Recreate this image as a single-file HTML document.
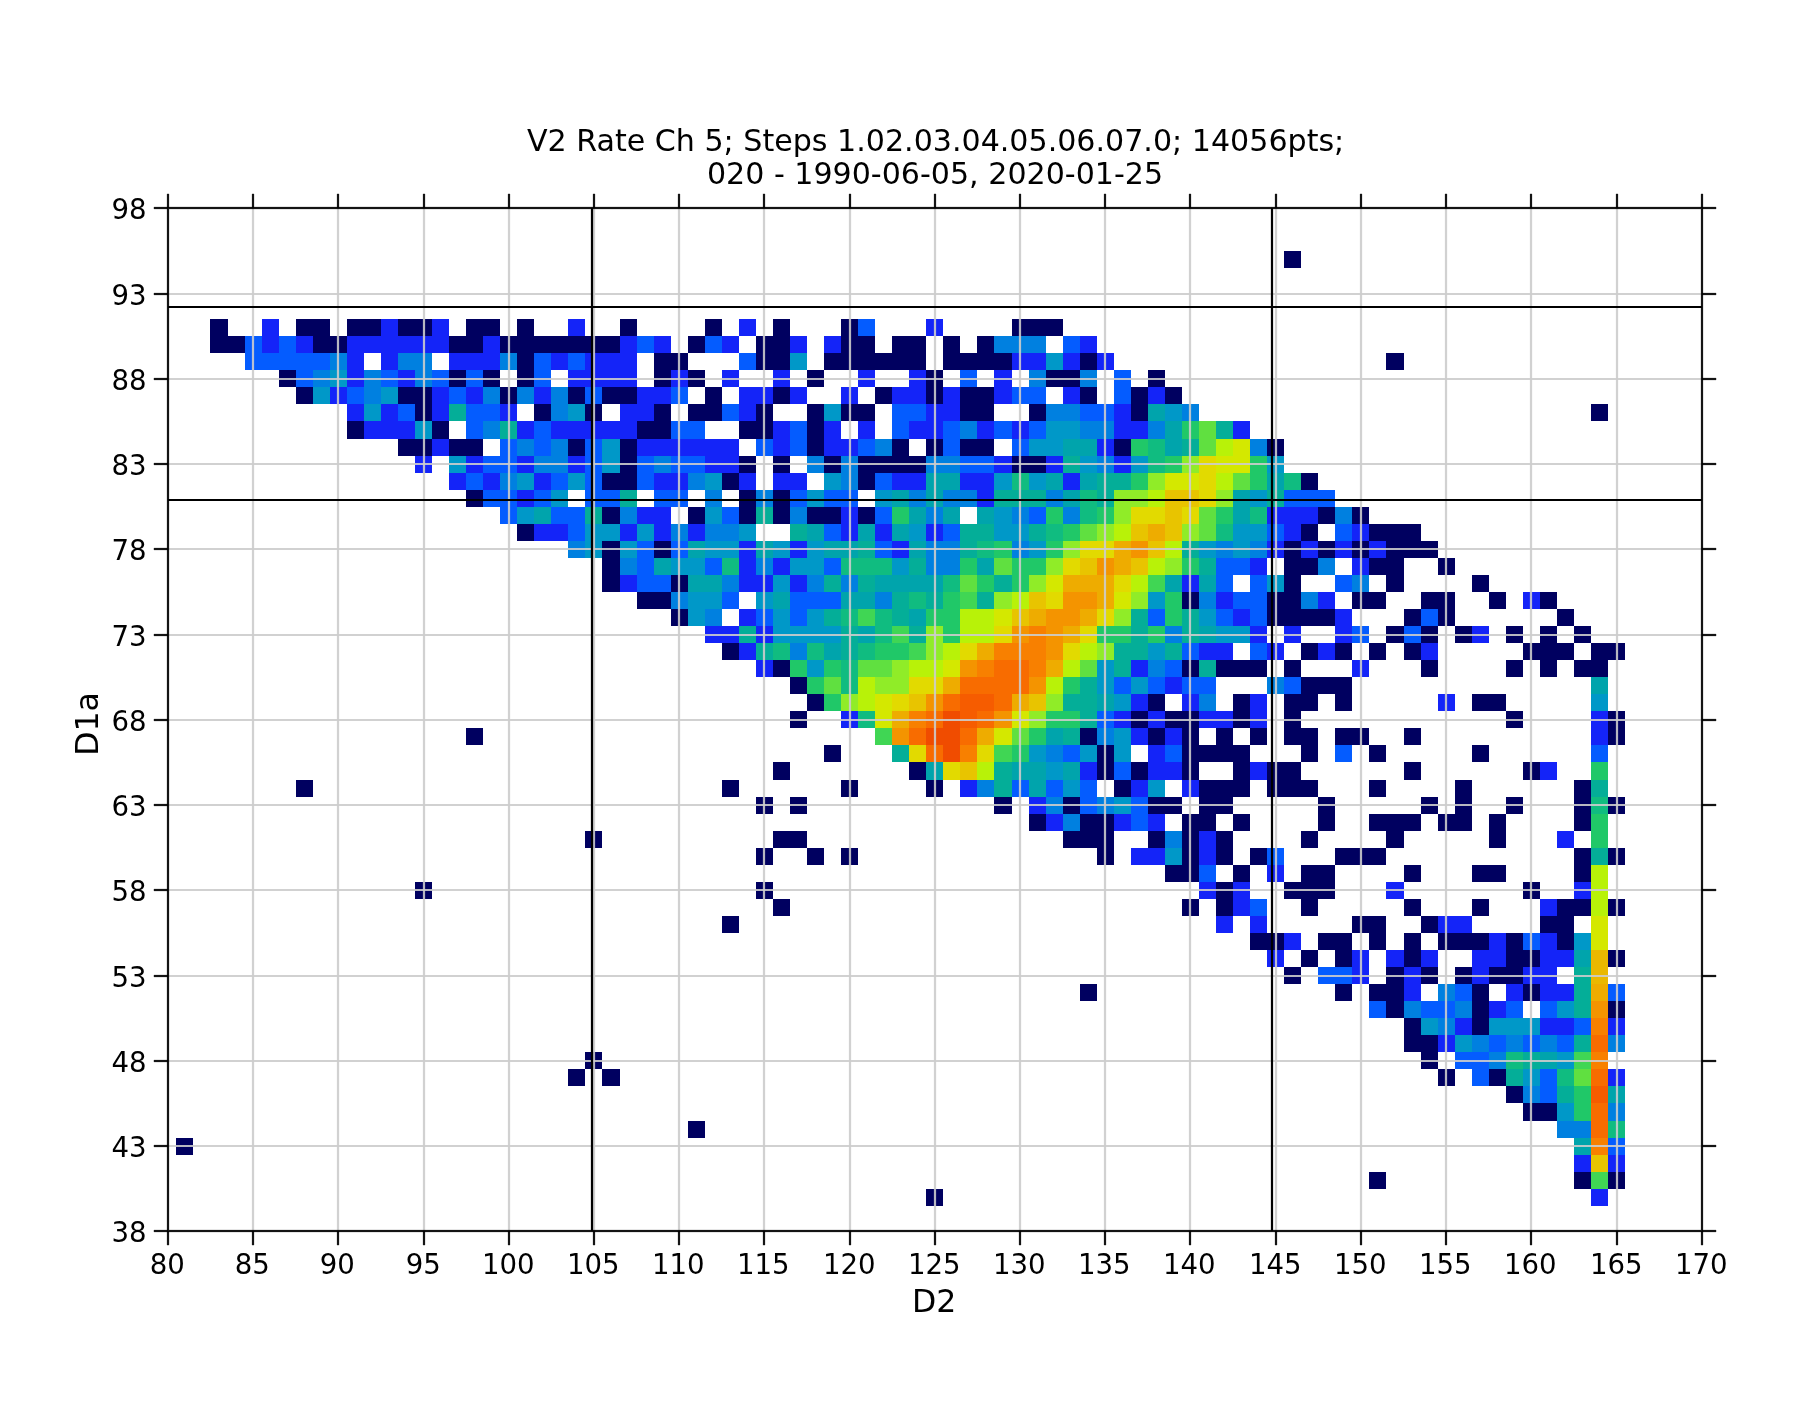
<!DOCTYPE html><html><head><meta charset="utf-8"><title>V2 Rate Ch 5</title>
<style>html,body{margin:0;padding:0;background:#fff;overflow:hidden}svg{display:block}text{font-family:"DejaVu Sans","Liberation Sans",sans-serif;fill:#000}</style></head><body>
<svg width="1820" height="1424" viewBox="0 0 1820 1424" style="will-change:transform">
<rect width="1820" height="1424" fill="#fff"/>
<defs><clipPath id="ax"><rect x="167.85" y="208.35" width="1533.96" height="1023.00"/></clipPath></defs>
<g clip-path="url(#ax)" shape-rendering="crispEdges">
<rect x="1284" y="251" width="17" height="17" fill="#000060"/>
<rect x="210" y="319" width="18" height="17" fill="#000060"/>
<rect x="262" y="319" width="17" height="17" fill="#1424f8"/>
<rect x="296" y="319" width="34" height="17" fill="#000060"/>
<rect x="347" y="319" width="34" height="17" fill="#000060"/>
<rect x="381" y="319" width="17" height="17" fill="#1424f8"/>
<rect x="398" y="319" width="34" height="17" fill="#000060"/>
<rect x="432" y="319" width="17" height="17" fill="#1424f8"/>
<rect x="466" y="319" width="34" height="17" fill="#000060"/>
<rect x="517" y="319" width="17" height="17" fill="#000060"/>
<rect x="568" y="319" width="17" height="17" fill="#1424f8"/>
<rect x="620" y="319" width="17" height="17" fill="#000060"/>
<rect x="705" y="319" width="17" height="17" fill="#000060"/>
<rect x="739" y="319" width="17" height="17" fill="#1424f8"/>
<rect x="773" y="319" width="17" height="17" fill="#000060"/>
<rect x="841" y="319" width="17" height="17" fill="#000060"/>
<rect x="858" y="319" width="17" height="17" fill="#045cff"/>
<rect x="926" y="319" width="17" height="17" fill="#1424f8"/>
<rect x="1012" y="319" width="51" height="17" fill="#000060"/>
<rect x="210" y="336" width="35" height="17" fill="#000060"/>
<rect x="245" y="336" width="17" height="17" fill="#045cff"/>
<rect x="262" y="336" width="17" height="17" fill="#1424f8"/>
<rect x="279" y="336" width="17" height="17" fill="#045cff"/>
<rect x="296" y="336" width="17" height="17" fill="#1424f8"/>
<rect x="313" y="336" width="34" height="17" fill="#000060"/>
<rect x="347" y="336" width="102" height="17" fill="#1424f8"/>
<rect x="449" y="336" width="34" height="17" fill="#000060"/>
<rect x="483" y="336" width="17" height="17" fill="#1424f8"/>
<rect x="500" y="336" width="120" height="17" fill="#000060"/>
<rect x="620" y="336" width="17" height="17" fill="#1424f8"/>
<rect x="637" y="336" width="17" height="17" fill="#045cff"/>
<rect x="654" y="336" width="17" height="17" fill="#1424f8"/>
<rect x="688" y="336" width="17" height="17" fill="#000060"/>
<rect x="705" y="336" width="17" height="17" fill="#045cff"/>
<rect x="722" y="336" width="17" height="17" fill="#1424f8"/>
<rect x="756" y="336" width="34" height="17" fill="#000060"/>
<rect x="790" y="336" width="17" height="17" fill="#1424f8"/>
<rect x="824" y="336" width="17" height="17" fill="#1424f8"/>
<rect x="841" y="336" width="34" height="17" fill="#000060"/>
<rect x="892" y="336" width="34" height="17" fill="#000060"/>
<rect x="943" y="336" width="17" height="17" fill="#000060"/>
<rect x="977" y="336" width="17" height="17" fill="#000060"/>
<rect x="994" y="336" width="52" height="17" fill="#0080e0"/>
<rect x="1063" y="336" width="17" height="17" fill="#045cff"/>
<rect x="1080" y="336" width="17" height="17" fill="#1424f8"/>
<rect x="245" y="353" width="85" height="17" fill="#045cff"/>
<rect x="330" y="353" width="17" height="17" fill="#0080e0"/>
<rect x="347" y="353" width="17" height="17" fill="#1424f8"/>
<rect x="381" y="353" width="17" height="17" fill="#1424f8"/>
<rect x="398" y="353" width="34" height="17" fill="#0080e0"/>
<rect x="449" y="353" width="51" height="17" fill="#1424f8"/>
<rect x="500" y="353" width="17" height="17" fill="#0080e0"/>
<rect x="517" y="353" width="17" height="17" fill="#000060"/>
<rect x="534" y="353" width="17" height="17" fill="#045cff"/>
<rect x="551" y="353" width="17" height="17" fill="#1424f8"/>
<rect x="568" y="353" width="17" height="17" fill="#045cff"/>
<rect x="585" y="353" width="52" height="17" fill="#1424f8"/>
<rect x="654" y="353" width="34" height="17" fill="#000060"/>
<rect x="739" y="353" width="17" height="17" fill="#045cff"/>
<rect x="756" y="353" width="34" height="17" fill="#000060"/>
<rect x="790" y="353" width="17" height="17" fill="#0098c8"/>
<rect x="824" y="353" width="102" height="17" fill="#000060"/>
<rect x="943" y="353" width="69" height="17" fill="#000060"/>
<rect x="1012" y="353" width="34" height="17" fill="#1424f8"/>
<rect x="1046" y="353" width="17" height="17" fill="#0098c8"/>
<rect x="1063" y="353" width="17" height="17" fill="#1424f8"/>
<rect x="1080" y="353" width="17" height="17" fill="#000060"/>
<rect x="1097" y="353" width="17" height="17" fill="#1424f8"/>
<rect x="1386" y="353" width="18" height="17" fill="#000060"/>
<rect x="279" y="370" width="17" height="17" fill="#000060"/>
<rect x="296" y="370" width="17" height="17" fill="#045cff"/>
<rect x="313" y="370" width="17" height="17" fill="#0080e0"/>
<rect x="330" y="370" width="17" height="17" fill="#0098c8"/>
<rect x="347" y="370" width="17" height="17" fill="#1424f8"/>
<rect x="364" y="370" width="17" height="17" fill="#0080e0"/>
<rect x="381" y="370" width="17" height="17" fill="#045cff"/>
<rect x="398" y="370" width="17" height="17" fill="#1424f8"/>
<rect x="415" y="370" width="17" height="17" fill="#0080e0"/>
<rect x="432" y="370" width="17" height="17" fill="#045cff"/>
<rect x="449" y="370" width="17" height="17" fill="#000060"/>
<rect x="466" y="370" width="17" height="17" fill="#045cff"/>
<rect x="483" y="370" width="17" height="17" fill="#000060"/>
<rect x="517" y="370" width="17" height="17" fill="#000060"/>
<rect x="534" y="370" width="17" height="17" fill="#045cff"/>
<rect x="568" y="370" width="69" height="17" fill="#1424f8"/>
<rect x="654" y="370" width="17" height="17" fill="#000060"/>
<rect x="671" y="370" width="17" height="17" fill="#1424f8"/>
<rect x="688" y="370" width="17" height="17" fill="#000060"/>
<rect x="722" y="370" width="17" height="17" fill="#1424f8"/>
<rect x="773" y="370" width="17" height="17" fill="#1424f8"/>
<rect x="807" y="370" width="17" height="17" fill="#000060"/>
<rect x="858" y="370" width="17" height="17" fill="#1424f8"/>
<rect x="909" y="370" width="17" height="17" fill="#1424f8"/>
<rect x="926" y="370" width="17" height="17" fill="#000060"/>
<rect x="960" y="370" width="17" height="17" fill="#045cff"/>
<rect x="994" y="370" width="18" height="17" fill="#1424f8"/>
<rect x="1029" y="370" width="17" height="17" fill="#0080e0"/>
<rect x="1046" y="370" width="34" height="17" fill="#000060"/>
<rect x="1080" y="370" width="17" height="17" fill="#0080e0"/>
<rect x="1114" y="370" width="17" height="17" fill="#045cff"/>
<rect x="1148" y="370" width="17" height="17" fill="#000060"/>
<rect x="296" y="387" width="17" height="17" fill="#000060"/>
<rect x="313" y="387" width="17" height="17" fill="#0098c8"/>
<rect x="330" y="387" width="17" height="17" fill="#1424f8"/>
<rect x="347" y="387" width="17" height="17" fill="#045cff"/>
<rect x="364" y="387" width="17" height="17" fill="#0080e0"/>
<rect x="381" y="387" width="17" height="17" fill="#0098c8"/>
<rect x="398" y="387" width="34" height="17" fill="#000060"/>
<rect x="432" y="387" width="17" height="17" fill="#1424f8"/>
<rect x="449" y="387" width="17" height="17" fill="#045cff"/>
<rect x="466" y="387" width="17" height="17" fill="#1424f8"/>
<rect x="483" y="387" width="17" height="17" fill="#0080e0"/>
<rect x="500" y="387" width="17" height="17" fill="#000060"/>
<rect x="517" y="387" width="17" height="17" fill="#0080e0"/>
<rect x="534" y="387" width="17" height="17" fill="#1424f8"/>
<rect x="551" y="387" width="17" height="17" fill="#0080e0"/>
<rect x="568" y="387" width="17" height="17" fill="#000060"/>
<rect x="585" y="387" width="17" height="17" fill="#045cff"/>
<rect x="602" y="387" width="35" height="17" fill="#000060"/>
<rect x="637" y="387" width="34" height="17" fill="#1424f8"/>
<rect x="671" y="387" width="17" height="17" fill="#045cff"/>
<rect x="705" y="387" width="17" height="17" fill="#000060"/>
<rect x="739" y="387" width="34" height="17" fill="#1424f8"/>
<rect x="773" y="387" width="17" height="17" fill="#000060"/>
<rect x="790" y="387" width="17" height="17" fill="#1424f8"/>
<rect x="841" y="387" width="17" height="17" fill="#1424f8"/>
<rect x="875" y="387" width="17" height="17" fill="#000060"/>
<rect x="892" y="387" width="34" height="17" fill="#1424f8"/>
<rect x="926" y="387" width="17" height="17" fill="#000060"/>
<rect x="943" y="387" width="17" height="17" fill="#1424f8"/>
<rect x="960" y="387" width="34" height="17" fill="#000060"/>
<rect x="994" y="387" width="18" height="17" fill="#1424f8"/>
<rect x="1012" y="387" width="34" height="17" fill="#045cff"/>
<rect x="1063" y="387" width="17" height="17" fill="#1424f8"/>
<rect x="1080" y="387" width="17" height="17" fill="#000060"/>
<rect x="1114" y="387" width="17" height="17" fill="#045cff"/>
<rect x="1131" y="387" width="17" height="17" fill="#000060"/>
<rect x="1148" y="387" width="17" height="17" fill="#1424f8"/>
<rect x="1165" y="387" width="17" height="17" fill="#000060"/>
<rect x="347" y="404" width="17" height="17" fill="#1424f8"/>
<rect x="364" y="404" width="17" height="17" fill="#0098c8"/>
<rect x="381" y="404" width="17" height="17" fill="#1424f8"/>
<rect x="398" y="404" width="17" height="17" fill="#045cff"/>
<rect x="415" y="404" width="17" height="17" fill="#000060"/>
<rect x="432" y="404" width="17" height="17" fill="#1424f8"/>
<rect x="449" y="404" width="17" height="17" fill="#04ae98"/>
<rect x="466" y="404" width="34" height="17" fill="#045cff"/>
<rect x="500" y="404" width="17" height="17" fill="#1424f8"/>
<rect x="534" y="404" width="17" height="17" fill="#000060"/>
<rect x="551" y="404" width="17" height="17" fill="#0080e0"/>
<rect x="568" y="404" width="17" height="17" fill="#0098c8"/>
<rect x="585" y="404" width="17" height="17" fill="#000060"/>
<rect x="620" y="404" width="34" height="17" fill="#1424f8"/>
<rect x="654" y="404" width="17" height="17" fill="#000060"/>
<rect x="688" y="404" width="34" height="17" fill="#000060"/>
<rect x="722" y="404" width="17" height="17" fill="#045cff"/>
<rect x="739" y="404" width="17" height="17" fill="#1424f8"/>
<rect x="756" y="404" width="17" height="17" fill="#000060"/>
<rect x="807" y="404" width="17" height="17" fill="#000060"/>
<rect x="824" y="404" width="17" height="17" fill="#0098c8"/>
<rect x="841" y="404" width="34" height="17" fill="#000060"/>
<rect x="892" y="404" width="34" height="17" fill="#045cff"/>
<rect x="926" y="404" width="34" height="17" fill="#1424f8"/>
<rect x="960" y="404" width="34" height="17" fill="#000060"/>
<rect x="1029" y="404" width="17" height="17" fill="#000060"/>
<rect x="1046" y="404" width="34" height="17" fill="#0080e0"/>
<rect x="1080" y="404" width="34" height="17" fill="#045cff"/>
<rect x="1114" y="404" width="17" height="17" fill="#1424f8"/>
<rect x="1131" y="404" width="17" height="17" fill="#000060"/>
<rect x="1148" y="404" width="17" height="17" fill="#00a4ac"/>
<rect x="1165" y="404" width="17" height="17" fill="#0098c8"/>
<rect x="1182" y="404" width="17" height="17" fill="#0080e0"/>
<rect x="1591" y="404" width="17" height="17" fill="#000060"/>
<rect x="347" y="421" width="17" height="18" fill="#000060"/>
<rect x="364" y="421" width="51" height="18" fill="#1424f8"/>
<rect x="415" y="421" width="17" height="18" fill="#0098c8"/>
<rect x="432" y="421" width="17" height="18" fill="#000060"/>
<rect x="466" y="421" width="17" height="18" fill="#045cff"/>
<rect x="483" y="421" width="17" height="18" fill="#0080e0"/>
<rect x="500" y="421" width="17" height="18" fill="#04ae98"/>
<rect x="517" y="421" width="17" height="18" fill="#1424f8"/>
<rect x="534" y="421" width="17" height="18" fill="#045cff"/>
<rect x="551" y="421" width="86" height="18" fill="#1424f8"/>
<rect x="637" y="421" width="34" height="18" fill="#000060"/>
<rect x="671" y="421" width="34" height="18" fill="#045cff"/>
<rect x="739" y="421" width="34" height="18" fill="#000060"/>
<rect x="773" y="421" width="17" height="18" fill="#1424f8"/>
<rect x="790" y="421" width="17" height="18" fill="#045cff"/>
<rect x="807" y="421" width="17" height="18" fill="#000060"/>
<rect x="824" y="421" width="17" height="18" fill="#1424f8"/>
<rect x="858" y="421" width="17" height="18" fill="#1424f8"/>
<rect x="892" y="421" width="17" height="18" fill="#045cff"/>
<rect x="909" y="421" width="34" height="18" fill="#1424f8"/>
<rect x="943" y="421" width="17" height="18" fill="#045cff"/>
<rect x="960" y="421" width="17" height="18" fill="#0080e0"/>
<rect x="977" y="421" width="17" height="18" fill="#1424f8"/>
<rect x="994" y="421" width="18" height="18" fill="#045cff"/>
<rect x="1012" y="421" width="17" height="18" fill="#1424f8"/>
<rect x="1029" y="421" width="17" height="18" fill="#045cff"/>
<rect x="1046" y="421" width="34" height="18" fill="#0098c8"/>
<rect x="1080" y="421" width="34" height="18" fill="#0080e0"/>
<rect x="1114" y="421" width="34" height="18" fill="#1424f8"/>
<rect x="1148" y="421" width="17" height="18" fill="#0080e0"/>
<rect x="1165" y="421" width="17" height="18" fill="#00a4ac"/>
<rect x="1182" y="421" width="17" height="18" fill="#20c868"/>
<rect x="1199" y="421" width="17" height="18" fill="#60e040"/>
<rect x="1216" y="421" width="17" height="18" fill="#04ae98"/>
<rect x="1233" y="421" width="17" height="18" fill="#1424f8"/>
<rect x="398" y="439" width="34" height="17" fill="#000060"/>
<rect x="432" y="439" width="17" height="17" fill="#1424f8"/>
<rect x="449" y="439" width="34" height="17" fill="#000060"/>
<rect x="500" y="439" width="17" height="17" fill="#045cff"/>
<rect x="517" y="439" width="17" height="17" fill="#0080e0"/>
<rect x="534" y="439" width="17" height="17" fill="#045cff"/>
<rect x="551" y="439" width="17" height="17" fill="#0080e0"/>
<rect x="568" y="439" width="17" height="17" fill="#000060"/>
<rect x="585" y="439" width="17" height="17" fill="#045cff"/>
<rect x="602" y="439" width="18" height="17" fill="#0098c8"/>
<rect x="620" y="439" width="17" height="17" fill="#000060"/>
<rect x="637" y="439" width="102" height="17" fill="#1424f8"/>
<rect x="756" y="439" width="17" height="17" fill="#045cff"/>
<rect x="773" y="439" width="17" height="17" fill="#1424f8"/>
<rect x="790" y="439" width="17" height="17" fill="#045cff"/>
<rect x="807" y="439" width="17" height="17" fill="#000060"/>
<rect x="824" y="439" width="34" height="17" fill="#1424f8"/>
<rect x="858" y="439" width="17" height="17" fill="#045cff"/>
<rect x="875" y="439" width="17" height="17" fill="#0080e0"/>
<rect x="892" y="439" width="17" height="17" fill="#000060"/>
<rect x="926" y="439" width="17" height="17" fill="#000060"/>
<rect x="943" y="439" width="17" height="17" fill="#045cff"/>
<rect x="960" y="439" width="34" height="17" fill="#000060"/>
<rect x="1012" y="439" width="17" height="17" fill="#045cff"/>
<rect x="1029" y="439" width="34" height="17" fill="#0098c8"/>
<rect x="1063" y="439" width="34" height="17" fill="#00a4ac"/>
<rect x="1097" y="439" width="17" height="17" fill="#1424f8"/>
<rect x="1114" y="439" width="17" height="17" fill="#000060"/>
<rect x="1131" y="439" width="17" height="17" fill="#20c868"/>
<rect x="1148" y="439" width="17" height="17" fill="#10bc80"/>
<rect x="1165" y="439" width="17" height="17" fill="#00a4ac"/>
<rect x="1182" y="439" width="17" height="17" fill="#04ae98"/>
<rect x="1199" y="439" width="17" height="17" fill="#60e040"/>
<rect x="1216" y="439" width="17" height="17" fill="#b8f208"/>
<rect x="1233" y="439" width="17" height="17" fill="#d4e800"/>
<rect x="1250" y="439" width="17" height="17" fill="#0080e0"/>
<rect x="1267" y="439" width="17" height="17" fill="#000060"/>
<rect x="415" y="456" width="17" height="17" fill="#1424f8"/>
<rect x="449" y="456" width="17" height="17" fill="#0098c8"/>
<rect x="466" y="456" width="17" height="17" fill="#1424f8"/>
<rect x="483" y="456" width="34" height="17" fill="#045cff"/>
<rect x="517" y="456" width="17" height="17" fill="#1424f8"/>
<rect x="534" y="456" width="34" height="17" fill="#0080e0"/>
<rect x="568" y="456" width="17" height="17" fill="#1424f8"/>
<rect x="585" y="456" width="17" height="17" fill="#045cff"/>
<rect x="602" y="456" width="18" height="17" fill="#0098c8"/>
<rect x="620" y="456" width="17" height="17" fill="#000060"/>
<rect x="637" y="456" width="17" height="17" fill="#045cff"/>
<rect x="654" y="456" width="17" height="17" fill="#0080e0"/>
<rect x="671" y="456" width="34" height="17" fill="#045cff"/>
<rect x="705" y="456" width="34" height="17" fill="#1424f8"/>
<rect x="739" y="456" width="17" height="17" fill="#000060"/>
<rect x="773" y="456" width="17" height="17" fill="#000060"/>
<rect x="807" y="456" width="17" height="17" fill="#0080e0"/>
<rect x="824" y="456" width="17" height="17" fill="#000060"/>
<rect x="841" y="456" width="17" height="17" fill="#0080e0"/>
<rect x="858" y="456" width="68" height="17" fill="#000060"/>
<rect x="926" y="456" width="34" height="17" fill="#0080e0"/>
<rect x="960" y="456" width="34" height="17" fill="#045cff"/>
<rect x="994" y="456" width="18" height="17" fill="#1424f8"/>
<rect x="1012" y="456" width="34" height="17" fill="#000060"/>
<rect x="1046" y="456" width="17" height="17" fill="#1424f8"/>
<rect x="1063" y="456" width="17" height="17" fill="#04ae98"/>
<rect x="1080" y="456" width="17" height="17" fill="#0098c8"/>
<rect x="1097" y="456" width="17" height="17" fill="#0080e0"/>
<rect x="1114" y="456" width="17" height="17" fill="#1424f8"/>
<rect x="1131" y="456" width="17" height="17" fill="#0098c8"/>
<rect x="1148" y="456" width="17" height="17" fill="#10bc80"/>
<rect x="1165" y="456" width="17" height="17" fill="#20c868"/>
<rect x="1182" y="456" width="17" height="17" fill="#90ec28"/>
<rect x="1199" y="456" width="17" height="17" fill="#e2da00"/>
<rect x="1216" y="456" width="34" height="17" fill="#d4e800"/>
<rect x="1250" y="456" width="17" height="17" fill="#20c868"/>
<rect x="1267" y="456" width="17" height="17" fill="#0098c8"/>
<rect x="449" y="473" width="17" height="17" fill="#1424f8"/>
<rect x="466" y="473" width="17" height="17" fill="#045cff"/>
<rect x="483" y="473" width="17" height="17" fill="#1424f8"/>
<rect x="500" y="473" width="17" height="17" fill="#0080e0"/>
<rect x="517" y="473" width="17" height="17" fill="#0098c8"/>
<rect x="534" y="473" width="17" height="17" fill="#1424f8"/>
<rect x="551" y="473" width="17" height="17" fill="#045cff"/>
<rect x="568" y="473" width="17" height="17" fill="#0098c8"/>
<rect x="585" y="473" width="17" height="17" fill="#045cff"/>
<rect x="602" y="473" width="35" height="17" fill="#000060"/>
<rect x="637" y="473" width="17" height="17" fill="#045cff"/>
<rect x="654" y="473" width="34" height="17" fill="#1424f8"/>
<rect x="688" y="473" width="17" height="17" fill="#0080e0"/>
<rect x="705" y="473" width="17" height="17" fill="#0098c8"/>
<rect x="722" y="473" width="17" height="17" fill="#000060"/>
<rect x="739" y="473" width="17" height="17" fill="#1424f8"/>
<rect x="773" y="473" width="34" height="17" fill="#1424f8"/>
<rect x="824" y="473" width="17" height="17" fill="#0098c8"/>
<rect x="841" y="473" width="17" height="17" fill="#0080e0"/>
<rect x="858" y="473" width="17" height="17" fill="#000060"/>
<rect x="875" y="473" width="17" height="17" fill="#045cff"/>
<rect x="892" y="473" width="34" height="17" fill="#1424f8"/>
<rect x="926" y="473" width="34" height="17" fill="#00a4ac"/>
<rect x="960" y="473" width="34" height="17" fill="#1424f8"/>
<rect x="994" y="473" width="18" height="17" fill="#0098c8"/>
<rect x="1012" y="473" width="17" height="17" fill="#10bc80"/>
<rect x="1029" y="473" width="17" height="17" fill="#0098c8"/>
<rect x="1046" y="473" width="17" height="17" fill="#00a4ac"/>
<rect x="1063" y="473" width="17" height="17" fill="#1424f8"/>
<rect x="1080" y="473" width="17" height="17" fill="#00a4ac"/>
<rect x="1097" y="473" width="34" height="17" fill="#04ae98"/>
<rect x="1131" y="473" width="17" height="17" fill="#20c868"/>
<rect x="1148" y="473" width="17" height="17" fill="#90ec28"/>
<rect x="1165" y="473" width="34" height="17" fill="#d4e800"/>
<rect x="1199" y="473" width="17" height="17" fill="#e2da00"/>
<rect x="1216" y="473" width="17" height="17" fill="#b8f208"/>
<rect x="1233" y="473" width="17" height="17" fill="#60e040"/>
<rect x="1250" y="473" width="17" height="17" fill="#20c868"/>
<rect x="1267" y="473" width="17" height="17" fill="#00a4ac"/>
<rect x="1284" y="473" width="17" height="17" fill="#10bc80"/>
<rect x="1301" y="473" width="17" height="17" fill="#000060"/>
<rect x="466" y="490" width="17" height="17" fill="#000060"/>
<rect x="483" y="490" width="34" height="17" fill="#045cff"/>
<rect x="517" y="490" width="17" height="17" fill="#1424f8"/>
<rect x="534" y="490" width="17" height="17" fill="#045cff"/>
<rect x="551" y="490" width="17" height="17" fill="#0098c8"/>
<rect x="585" y="490" width="35" height="17" fill="#045cff"/>
<rect x="620" y="490" width="17" height="17" fill="#04ae98"/>
<rect x="654" y="490" width="34" height="17" fill="#045cff"/>
<rect x="705" y="490" width="17" height="17" fill="#0080e0"/>
<rect x="739" y="490" width="17" height="17" fill="#000060"/>
<rect x="756" y="490" width="17" height="17" fill="#0080e0"/>
<rect x="773" y="490" width="17" height="17" fill="#000060"/>
<rect x="790" y="490" width="17" height="17" fill="#045cff"/>
<rect x="807" y="490" width="17" height="17" fill="#0098c8"/>
<rect x="824" y="490" width="34" height="17" fill="#045cff"/>
<rect x="875" y="490" width="17" height="17" fill="#0098c8"/>
<rect x="892" y="490" width="17" height="17" fill="#00a4ac"/>
<rect x="909" y="490" width="17" height="17" fill="#0080e0"/>
<rect x="926" y="490" width="17" height="17" fill="#00a4ac"/>
<rect x="943" y="490" width="34" height="17" fill="#0080e0"/>
<rect x="977" y="490" width="17" height="17" fill="#1424f8"/>
<rect x="994" y="490" width="52" height="17" fill="#04ae98"/>
<rect x="1046" y="490" width="17" height="17" fill="#0080e0"/>
<rect x="1063" y="490" width="17" height="17" fill="#00a4ac"/>
<rect x="1080" y="490" width="17" height="17" fill="#10bc80"/>
<rect x="1097" y="490" width="17" height="17" fill="#04ae98"/>
<rect x="1114" y="490" width="34" height="17" fill="#90ec28"/>
<rect x="1148" y="490" width="17" height="17" fill="#b8f208"/>
<rect x="1165" y="490" width="34" height="17" fill="#e8c400"/>
<rect x="1199" y="490" width="17" height="17" fill="#e2da00"/>
<rect x="1216" y="490" width="17" height="17" fill="#90ec28"/>
<rect x="1233" y="490" width="17" height="17" fill="#00a4ac"/>
<rect x="1250" y="490" width="17" height="17" fill="#0098c8"/>
<rect x="1267" y="490" width="17" height="17" fill="#04ae98"/>
<rect x="1284" y="490" width="51" height="17" fill="#045cff"/>
<rect x="500" y="507" width="17" height="17" fill="#045cff"/>
<rect x="517" y="507" width="17" height="17" fill="#0098c8"/>
<rect x="534" y="507" width="17" height="17" fill="#00a4ac"/>
<rect x="551" y="507" width="34" height="17" fill="#045cff"/>
<rect x="585" y="507" width="17" height="17" fill="#04ae98"/>
<rect x="602" y="507" width="18" height="17" fill="#000060"/>
<rect x="620" y="507" width="17" height="17" fill="#0080e0"/>
<rect x="637" y="507" width="34" height="17" fill="#1424f8"/>
<rect x="688" y="507" width="17" height="17" fill="#000060"/>
<rect x="705" y="507" width="17" height="17" fill="#0098c8"/>
<rect x="722" y="507" width="17" height="17" fill="#045cff"/>
<rect x="739" y="507" width="17" height="17" fill="#000060"/>
<rect x="756" y="507" width="17" height="17" fill="#04ae98"/>
<rect x="773" y="507" width="17" height="17" fill="#000060"/>
<rect x="790" y="507" width="17" height="17" fill="#0080e0"/>
<rect x="807" y="507" width="34" height="17" fill="#000060"/>
<rect x="841" y="507" width="17" height="17" fill="#1424f8"/>
<rect x="858" y="507" width="17" height="17" fill="#000060"/>
<rect x="875" y="507" width="17" height="17" fill="#045cff"/>
<rect x="892" y="507" width="17" height="17" fill="#20c868"/>
<rect x="909" y="507" width="17" height="17" fill="#00a4ac"/>
<rect x="926" y="507" width="17" height="17" fill="#0080e0"/>
<rect x="943" y="507" width="17" height="17" fill="#00a4ac"/>
<rect x="977" y="507" width="17" height="17" fill="#00a4ac"/>
<rect x="994" y="507" width="18" height="17" fill="#0098c8"/>
<rect x="1012" y="507" width="17" height="17" fill="#0080e0"/>
<rect x="1029" y="507" width="17" height="17" fill="#045cff"/>
<rect x="1046" y="507" width="17" height="17" fill="#20c868"/>
<rect x="1063" y="507" width="17" height="17" fill="#0080e0"/>
<rect x="1080" y="507" width="17" height="17" fill="#10bc80"/>
<rect x="1097" y="507" width="17" height="17" fill="#20c868"/>
<rect x="1114" y="507" width="17" height="17" fill="#90ec28"/>
<rect x="1131" y="507" width="34" height="17" fill="#e2da00"/>
<rect x="1165" y="507" width="17" height="17" fill="#e8c400"/>
<rect x="1182" y="507" width="17" height="17" fill="#e2da00"/>
<rect x="1199" y="507" width="17" height="17" fill="#60e040"/>
<rect x="1216" y="507" width="17" height="17" fill="#20c868"/>
<rect x="1233" y="507" width="17" height="17" fill="#00a4ac"/>
<rect x="1250" y="507" width="17" height="17" fill="#10bc80"/>
<rect x="1267" y="507" width="51" height="17" fill="#1424f8"/>
<rect x="1318" y="507" width="17" height="17" fill="#000060"/>
<rect x="1335" y="507" width="17" height="17" fill="#0080e0"/>
<rect x="1352" y="507" width="17" height="17" fill="#000060"/>
<rect x="517" y="524" width="17" height="17" fill="#000060"/>
<rect x="534" y="524" width="34" height="17" fill="#1424f8"/>
<rect x="568" y="524" width="17" height="17" fill="#045cff"/>
<rect x="585" y="524" width="35" height="17" fill="#0098c8"/>
<rect x="620" y="524" width="17" height="17" fill="#1424f8"/>
<rect x="637" y="524" width="17" height="17" fill="#0098c8"/>
<rect x="654" y="524" width="17" height="17" fill="#1424f8"/>
<rect x="671" y="524" width="17" height="17" fill="#0080e0"/>
<rect x="688" y="524" width="17" height="17" fill="#1424f8"/>
<rect x="705" y="524" width="34" height="17" fill="#0080e0"/>
<rect x="739" y="524" width="17" height="17" fill="#0098c8"/>
<rect x="790" y="524" width="17" height="17" fill="#04ae98"/>
<rect x="807" y="524" width="17" height="17" fill="#00a4ac"/>
<rect x="824" y="524" width="17" height="17" fill="#045cff"/>
<rect x="841" y="524" width="17" height="17" fill="#1424f8"/>
<rect x="858" y="524" width="17" height="17" fill="#00a4ac"/>
<rect x="875" y="524" width="17" height="17" fill="#1424f8"/>
<rect x="892" y="524" width="17" height="17" fill="#00a4ac"/>
<rect x="909" y="524" width="17" height="17" fill="#0098c8"/>
<rect x="926" y="524" width="17" height="17" fill="#1424f8"/>
<rect x="943" y="524" width="17" height="17" fill="#045cff"/>
<rect x="960" y="524" width="34" height="17" fill="#04ae98"/>
<rect x="994" y="524" width="35" height="17" fill="#0098c8"/>
<rect x="1029" y="524" width="17" height="17" fill="#04ae98"/>
<rect x="1046" y="524" width="17" height="17" fill="#10bc80"/>
<rect x="1063" y="524" width="17" height="17" fill="#20c868"/>
<rect x="1080" y="524" width="17" height="17" fill="#60e040"/>
<rect x="1097" y="524" width="17" height="17" fill="#90ec28"/>
<rect x="1114" y="524" width="17" height="17" fill="#b8f208"/>
<rect x="1131" y="524" width="17" height="17" fill="#e8c400"/>
<rect x="1148" y="524" width="17" height="17" fill="#eeac00"/>
<rect x="1165" y="524" width="17" height="17" fill="#e8c400"/>
<rect x="1182" y="524" width="17" height="17" fill="#90ec28"/>
<rect x="1199" y="524" width="17" height="17" fill="#60e040"/>
<rect x="1216" y="524" width="17" height="17" fill="#10bc80"/>
<rect x="1233" y="524" width="34" height="17" fill="#0098c8"/>
<rect x="1267" y="524" width="17" height="17" fill="#045cff"/>
<rect x="1284" y="524" width="17" height="17" fill="#1424f8"/>
<rect x="1301" y="524" width="17" height="17" fill="#000060"/>
<rect x="1335" y="524" width="17" height="17" fill="#045cff"/>
<rect x="1352" y="524" width="17" height="17" fill="#1424f8"/>
<rect x="1369" y="524" width="52" height="17" fill="#000060"/>
<rect x="568" y="541" width="17" height="17" fill="#0080e0"/>
<rect x="585" y="541" width="17" height="17" fill="#0098c8"/>
<rect x="602" y="541" width="18" height="17" fill="#000060"/>
<rect x="620" y="541" width="17" height="17" fill="#0098c8"/>
<rect x="637" y="541" width="17" height="17" fill="#045cff"/>
<rect x="654" y="541" width="17" height="17" fill="#000060"/>
<rect x="671" y="541" width="17" height="17" fill="#045cff"/>
<rect x="688" y="541" width="17" height="17" fill="#00a4ac"/>
<rect x="705" y="541" width="34" height="17" fill="#0098c8"/>
<rect x="739" y="541" width="17" height="17" fill="#1424f8"/>
<rect x="756" y="541" width="17" height="17" fill="#00a4ac"/>
<rect x="773" y="541" width="17" height="17" fill="#0098c8"/>
<rect x="790" y="541" width="17" height="17" fill="#1424f8"/>
<rect x="807" y="541" width="17" height="17" fill="#0098c8"/>
<rect x="824" y="541" width="34" height="17" fill="#00a4ac"/>
<rect x="858" y="541" width="17" height="17" fill="#04ae98"/>
<rect x="875" y="541" width="17" height="17" fill="#045cff"/>
<rect x="892" y="541" width="17" height="17" fill="#1424f8"/>
<rect x="909" y="541" width="17" height="17" fill="#00a4ac"/>
<rect x="926" y="541" width="34" height="17" fill="#0080e0"/>
<rect x="960" y="541" width="17" height="17" fill="#04ae98"/>
<rect x="977" y="541" width="17" height="17" fill="#10bc80"/>
<rect x="994" y="541" width="18" height="17" fill="#20c868"/>
<rect x="1012" y="541" width="17" height="17" fill="#0080e0"/>
<rect x="1029" y="541" width="17" height="17" fill="#0098c8"/>
<rect x="1046" y="541" width="17" height="17" fill="#20c868"/>
<rect x="1063" y="541" width="17" height="17" fill="#90ec28"/>
<rect x="1080" y="541" width="34" height="17" fill="#e2da00"/>
<rect x="1114" y="541" width="17" height="17" fill="#eeac00"/>
<rect x="1131" y="541" width="17" height="17" fill="#f49400"/>
<rect x="1148" y="541" width="17" height="17" fill="#e8c400"/>
<rect x="1165" y="541" width="17" height="17" fill="#b8f208"/>
<rect x="1182" y="541" width="17" height="17" fill="#04ae98"/>
<rect x="1199" y="541" width="17" height="17" fill="#0098c8"/>
<rect x="1216" y="541" width="17" height="17" fill="#0080e0"/>
<rect x="1233" y="541" width="17" height="17" fill="#0098c8"/>
<rect x="1250" y="541" width="17" height="17" fill="#0080e0"/>
<rect x="1267" y="541" width="17" height="17" fill="#1424f8"/>
<rect x="1284" y="541" width="17" height="17" fill="#000060"/>
<rect x="1301" y="541" width="17" height="17" fill="#1424f8"/>
<rect x="1318" y="541" width="17" height="17" fill="#000060"/>
<rect x="1335" y="541" width="17" height="17" fill="#1424f8"/>
<rect x="1352" y="541" width="17" height="17" fill="#000060"/>
<rect x="1369" y="541" width="17" height="17" fill="#1424f8"/>
<rect x="1386" y="541" width="52" height="17" fill="#000060"/>
<rect x="602" y="558" width="18" height="17" fill="#000060"/>
<rect x="620" y="558" width="17" height="17" fill="#0080e0"/>
<rect x="637" y="558" width="17" height="17" fill="#045cff"/>
<rect x="654" y="558" width="17" height="17" fill="#00a4ac"/>
<rect x="671" y="558" width="34" height="17" fill="#0098c8"/>
<rect x="705" y="558" width="17" height="17" fill="#045cff"/>
<rect x="722" y="558" width="17" height="17" fill="#10bc80"/>
<rect x="739" y="558" width="17" height="17" fill="#1424f8"/>
<rect x="756" y="558" width="17" height="17" fill="#0080e0"/>
<rect x="773" y="558" width="17" height="17" fill="#1424f8"/>
<rect x="790" y="558" width="34" height="17" fill="#0098c8"/>
<rect x="824" y="558" width="17" height="17" fill="#045cff"/>
<rect x="841" y="558" width="51" height="17" fill="#10bc80"/>
<rect x="892" y="558" width="17" height="17" fill="#0098c8"/>
<rect x="909" y="558" width="17" height="17" fill="#04ae98"/>
<rect x="926" y="558" width="34" height="17" fill="#0080e0"/>
<rect x="960" y="558" width="17" height="17" fill="#20c868"/>
<rect x="977" y="558" width="17" height="17" fill="#00a4ac"/>
<rect x="994" y="558" width="18" height="17" fill="#60e040"/>
<rect x="1012" y="558" width="34" height="17" fill="#20c868"/>
<rect x="1046" y="558" width="17" height="17" fill="#90ec28"/>
<rect x="1063" y="558" width="17" height="17" fill="#e2da00"/>
<rect x="1080" y="558" width="17" height="17" fill="#e8c400"/>
<rect x="1097" y="558" width="17" height="17" fill="#f49400"/>
<rect x="1114" y="558" width="17" height="17" fill="#eeac00"/>
<rect x="1131" y="558" width="17" height="17" fill="#e8c400"/>
<rect x="1148" y="558" width="17" height="17" fill="#b8f208"/>
<rect x="1165" y="558" width="17" height="17" fill="#90ec28"/>
<rect x="1182" y="558" width="17" height="17" fill="#20c868"/>
<rect x="1199" y="558" width="17" height="17" fill="#04ae98"/>
<rect x="1216" y="558" width="34" height="17" fill="#045cff"/>
<rect x="1250" y="558" width="17" height="17" fill="#1424f8"/>
<rect x="1284" y="558" width="34" height="17" fill="#000060"/>
<rect x="1318" y="558" width="17" height="17" fill="#0080e0"/>
<rect x="1352" y="558" width="17" height="17" fill="#1424f8"/>
<rect x="1369" y="558" width="35" height="17" fill="#000060"/>
<rect x="1438" y="558" width="17" height="17" fill="#000060"/>
<rect x="602" y="575" width="18" height="17" fill="#000060"/>
<rect x="620" y="575" width="17" height="17" fill="#1424f8"/>
<rect x="637" y="575" width="34" height="17" fill="#045cff"/>
<rect x="671" y="575" width="17" height="17" fill="#000060"/>
<rect x="688" y="575" width="34" height="17" fill="#00a4ac"/>
<rect x="722" y="575" width="17" height="17" fill="#0080e0"/>
<rect x="739" y="575" width="34" height="17" fill="#1424f8"/>
<rect x="773" y="575" width="17" height="17" fill="#0098c8"/>
<rect x="790" y="575" width="17" height="17" fill="#1424f8"/>
<rect x="807" y="575" width="17" height="17" fill="#0080e0"/>
<rect x="824" y="575" width="17" height="17" fill="#04ae98"/>
<rect x="841" y="575" width="17" height="17" fill="#0080e0"/>
<rect x="858" y="575" width="17" height="17" fill="#04ae98"/>
<rect x="875" y="575" width="68" height="17" fill="#00a4ac"/>
<rect x="943" y="575" width="17" height="17" fill="#10bc80"/>
<rect x="960" y="575" width="17" height="17" fill="#60e040"/>
<rect x="977" y="575" width="17" height="17" fill="#20c868"/>
<rect x="994" y="575" width="18" height="17" fill="#04ae98"/>
<rect x="1012" y="575" width="17" height="17" fill="#20c868"/>
<rect x="1029" y="575" width="17" height="17" fill="#90ec28"/>
<rect x="1046" y="575" width="17" height="17" fill="#d4e800"/>
<rect x="1063" y="575" width="51" height="17" fill="#eeac00"/>
<rect x="1114" y="575" width="17" height="17" fill="#e2da00"/>
<rect x="1131" y="575" width="17" height="17" fill="#b8f208"/>
<rect x="1148" y="575" width="17" height="17" fill="#40d654"/>
<rect x="1165" y="575" width="17" height="17" fill="#00a4ac"/>
<rect x="1182" y="575" width="17" height="17" fill="#1424f8"/>
<rect x="1199" y="575" width="17" height="17" fill="#00a4ac"/>
<rect x="1216" y="575" width="17" height="17" fill="#045cff"/>
<rect x="1250" y="575" width="17" height="17" fill="#045cff"/>
<rect x="1267" y="575" width="17" height="17" fill="#0098c8"/>
<rect x="1284" y="575" width="17" height="17" fill="#000060"/>
<rect x="1335" y="575" width="17" height="17" fill="#045cff"/>
<rect x="1352" y="575" width="17" height="17" fill="#0080e0"/>
<rect x="1386" y="575" width="18" height="17" fill="#000060"/>
<rect x="1472" y="575" width="17" height="17" fill="#000060"/>
<rect x="637" y="592" width="34" height="17" fill="#000060"/>
<rect x="671" y="592" width="17" height="17" fill="#0080e0"/>
<rect x="688" y="592" width="34" height="17" fill="#0098c8"/>
<rect x="722" y="592" width="17" height="17" fill="#045cff"/>
<rect x="756" y="592" width="17" height="17" fill="#0098c8"/>
<rect x="773" y="592" width="17" height="17" fill="#00a4ac"/>
<rect x="790" y="592" width="51" height="17" fill="#045cff"/>
<rect x="841" y="592" width="34" height="17" fill="#00a4ac"/>
<rect x="875" y="592" width="17" height="17" fill="#0080e0"/>
<rect x="892" y="592" width="17" height="17" fill="#04ae98"/>
<rect x="909" y="592" width="17" height="17" fill="#10bc80"/>
<rect x="926" y="592" width="17" height="17" fill="#04ae98"/>
<rect x="943" y="592" width="17" height="17" fill="#20c868"/>
<rect x="960" y="592" width="17" height="17" fill="#40d654"/>
<rect x="977" y="592" width="17" height="17" fill="#04ae98"/>
<rect x="994" y="592" width="18" height="17" fill="#90ec28"/>
<rect x="1012" y="592" width="17" height="17" fill="#b8f208"/>
<rect x="1029" y="592" width="17" height="17" fill="#e8c400"/>
<rect x="1046" y="592" width="17" height="17" fill="#e2da00"/>
<rect x="1063" y="592" width="34" height="17" fill="#f49400"/>
<rect x="1097" y="592" width="17" height="17" fill="#eeac00"/>
<rect x="1114" y="592" width="17" height="17" fill="#d4e800"/>
<rect x="1131" y="592" width="17" height="17" fill="#90ec28"/>
<rect x="1148" y="592" width="17" height="17" fill="#0098c8"/>
<rect x="1165" y="592" width="17" height="17" fill="#20c868"/>
<rect x="1182" y="592" width="17" height="17" fill="#000060"/>
<rect x="1199" y="592" width="17" height="17" fill="#0080e0"/>
<rect x="1216" y="592" width="17" height="17" fill="#1424f8"/>
<rect x="1233" y="592" width="34" height="17" fill="#045cff"/>
<rect x="1267" y="592" width="34" height="17" fill="#000060"/>
<rect x="1301" y="592" width="17" height="17" fill="#0080e0"/>
<rect x="1318" y="592" width="17" height="17" fill="#1424f8"/>
<rect x="1352" y="592" width="34" height="17" fill="#000060"/>
<rect x="1421" y="592" width="34" height="17" fill="#000060"/>
<rect x="1489" y="592" width="17" height="17" fill="#000060"/>
<rect x="1523" y="592" width="17" height="17" fill="#1424f8"/>
<rect x="1540" y="592" width="17" height="17" fill="#000060"/>
<rect x="671" y="609" width="17" height="17" fill="#000060"/>
<rect x="688" y="609" width="17" height="17" fill="#0098c8"/>
<rect x="705" y="609" width="17" height="17" fill="#0080e0"/>
<rect x="739" y="609" width="17" height="17" fill="#1424f8"/>
<rect x="756" y="609" width="17" height="17" fill="#045cff"/>
<rect x="773" y="609" width="17" height="17" fill="#0098c8"/>
<rect x="790" y="609" width="17" height="17" fill="#045cff"/>
<rect x="807" y="609" width="17" height="17" fill="#0098c8"/>
<rect x="824" y="609" width="17" height="17" fill="#04ae98"/>
<rect x="841" y="609" width="17" height="17" fill="#10bc80"/>
<rect x="858" y="609" width="17" height="17" fill="#40d654"/>
<rect x="875" y="609" width="17" height="17" fill="#10bc80"/>
<rect x="892" y="609" width="17" height="17" fill="#04ae98"/>
<rect x="909" y="609" width="17" height="17" fill="#00a4ac"/>
<rect x="926" y="609" width="34" height="17" fill="#20c868"/>
<rect x="960" y="609" width="34" height="17" fill="#b8f208"/>
<rect x="994" y="609" width="18" height="17" fill="#d4e800"/>
<rect x="1012" y="609" width="17" height="17" fill="#e8c400"/>
<rect x="1029" y="609" width="17" height="17" fill="#eeac00"/>
<rect x="1046" y="609" width="34" height="17" fill="#f49400"/>
<rect x="1080" y="609" width="17" height="17" fill="#eeac00"/>
<rect x="1097" y="609" width="17" height="17" fill="#e2da00"/>
<rect x="1114" y="609" width="17" height="17" fill="#90ec28"/>
<rect x="1131" y="609" width="17" height="17" fill="#04ae98"/>
<rect x="1148" y="609" width="17" height="17" fill="#045cff"/>
<rect x="1165" y="609" width="17" height="17" fill="#20c868"/>
<rect x="1182" y="609" width="17" height="17" fill="#04ae98"/>
<rect x="1199" y="609" width="17" height="17" fill="#0098c8"/>
<rect x="1216" y="609" width="17" height="17" fill="#045cff"/>
<rect x="1233" y="609" width="17" height="17" fill="#1424f8"/>
<rect x="1250" y="609" width="17" height="17" fill="#045cff"/>
<rect x="1267" y="609" width="68" height="17" fill="#000060"/>
<rect x="1335" y="609" width="17" height="17" fill="#1424f8"/>
<rect x="1404" y="609" width="17" height="17" fill="#000060"/>
<rect x="1421" y="609" width="17" height="17" fill="#045cff"/>
<rect x="1438" y="609" width="17" height="17" fill="#000060"/>
<rect x="1557" y="609" width="17" height="17" fill="#000060"/>
<rect x="705" y="626" width="34" height="17" fill="#1424f8"/>
<rect x="739" y="626" width="17" height="17" fill="#04ae98"/>
<rect x="756" y="626" width="17" height="17" fill="#1424f8"/>
<rect x="773" y="626" width="68" height="17" fill="#0098c8"/>
<rect x="841" y="626" width="17" height="17" fill="#04ae98"/>
<rect x="858" y="626" width="17" height="17" fill="#00a4ac"/>
<rect x="875" y="626" width="17" height="17" fill="#10bc80"/>
<rect x="892" y="626" width="17" height="17" fill="#40d654"/>
<rect x="909" y="626" width="17" height="17" fill="#04ae98"/>
<rect x="926" y="626" width="17" height="17" fill="#90ec28"/>
<rect x="943" y="626" width="17" height="17" fill="#20c868"/>
<rect x="960" y="626" width="34" height="17" fill="#b8f208"/>
<rect x="994" y="626" width="18" height="17" fill="#e2da00"/>
<rect x="1012" y="626" width="17" height="17" fill="#f49400"/>
<rect x="1029" y="626" width="17" height="17" fill="#f88000"/>
<rect x="1046" y="626" width="17" height="17" fill="#f49400"/>
<rect x="1063" y="626" width="17" height="17" fill="#eeac00"/>
<rect x="1080" y="626" width="17" height="17" fill="#e2da00"/>
<rect x="1097" y="626" width="34" height="17" fill="#20c868"/>
<rect x="1131" y="626" width="17" height="17" fill="#04ae98"/>
<rect x="1148" y="626" width="17" height="17" fill="#20c868"/>
<rect x="1165" y="626" width="17" height="17" fill="#0080e0"/>
<rect x="1182" y="626" width="17" height="17" fill="#04ae98"/>
<rect x="1199" y="626" width="17" height="17" fill="#00a4ac"/>
<rect x="1216" y="626" width="34" height="17" fill="#0098c8"/>
<rect x="1250" y="626" width="17" height="17" fill="#1424f8"/>
<rect x="1284" y="626" width="17" height="17" fill="#1424f8"/>
<rect x="1335" y="626" width="17" height="17" fill="#1424f8"/>
<rect x="1352" y="626" width="17" height="17" fill="#045cff"/>
<rect x="1386" y="626" width="18" height="17" fill="#000060"/>
<rect x="1404" y="626" width="17" height="17" fill="#045cff"/>
<rect x="1421" y="626" width="17" height="17" fill="#000060"/>
<rect x="1455" y="626" width="17" height="17" fill="#000060"/>
<rect x="1472" y="626" width="17" height="17" fill="#1424f8"/>
<rect x="1506" y="626" width="17" height="17" fill="#000060"/>
<rect x="1540" y="626" width="17" height="17" fill="#000060"/>
<rect x="1574" y="626" width="17" height="17" fill="#000060"/>
<rect x="722" y="643" width="17" height="17" fill="#000060"/>
<rect x="739" y="643" width="17" height="17" fill="#1424f8"/>
<rect x="756" y="643" width="17" height="17" fill="#04ae98"/>
<rect x="773" y="643" width="17" height="17" fill="#10bc80"/>
<rect x="790" y="643" width="17" height="17" fill="#0080e0"/>
<rect x="807" y="643" width="17" height="17" fill="#10bc80"/>
<rect x="824" y="643" width="17" height="17" fill="#00a4ac"/>
<rect x="841" y="643" width="17" height="17" fill="#04ae98"/>
<rect x="858" y="643" width="17" height="17" fill="#10bc80"/>
<rect x="875" y="643" width="34" height="17" fill="#20c868"/>
<rect x="909" y="643" width="17" height="17" fill="#40d654"/>
<rect x="926" y="643" width="17" height="17" fill="#90ec28"/>
<rect x="943" y="643" width="17" height="17" fill="#b8f208"/>
<rect x="960" y="643" width="17" height="17" fill="#e2da00"/>
<rect x="977" y="643" width="17" height="17" fill="#eeac00"/>
<rect x="994" y="643" width="52" height="17" fill="#f88000"/>
<rect x="1046" y="643" width="17" height="17" fill="#f49400"/>
<rect x="1063" y="643" width="17" height="17" fill="#e2da00"/>
<rect x="1080" y="643" width="17" height="17" fill="#b8f208"/>
<rect x="1097" y="643" width="17" height="17" fill="#90ec28"/>
<rect x="1114" y="643" width="34" height="17" fill="#04ae98"/>
<rect x="1148" y="643" width="17" height="17" fill="#0098c8"/>
<rect x="1165" y="643" width="17" height="17" fill="#04ae98"/>
<rect x="1182" y="643" width="17" height="17" fill="#045cff"/>
<rect x="1199" y="643" width="34" height="17" fill="#1424f8"/>
<rect x="1250" y="643" width="17" height="17" fill="#045cff"/>
<rect x="1267" y="643" width="17" height="17" fill="#1424f8"/>
<rect x="1301" y="643" width="17" height="17" fill="#000060"/>
<rect x="1318" y="643" width="17" height="17" fill="#1424f8"/>
<rect x="1335" y="643" width="17" height="17" fill="#000060"/>
<rect x="1369" y="643" width="17" height="17" fill="#000060"/>
<rect x="1404" y="643" width="17" height="17" fill="#000060"/>
<rect x="1421" y="643" width="17" height="17" fill="#1424f8"/>
<rect x="1523" y="643" width="51" height="17" fill="#000060"/>
<rect x="1591" y="643" width="34" height="17" fill="#000060"/>
<rect x="756" y="660" width="17" height="17" fill="#1424f8"/>
<rect x="773" y="660" width="17" height="17" fill="#000060"/>
<rect x="790" y="660" width="17" height="17" fill="#20c868"/>
<rect x="807" y="660" width="17" height="17" fill="#0098c8"/>
<rect x="824" y="660" width="17" height="17" fill="#20c868"/>
<rect x="841" y="660" width="17" height="17" fill="#10bc80"/>
<rect x="858" y="660" width="34" height="17" fill="#60e040"/>
<rect x="892" y="660" width="17" height="17" fill="#90ec28"/>
<rect x="909" y="660" width="34" height="17" fill="#b8f208"/>
<rect x="943" y="660" width="17" height="17" fill="#d4e800"/>
<rect x="960" y="660" width="17" height="17" fill="#f49400"/>
<rect x="977" y="660" width="17" height="17" fill="#f88000"/>
<rect x="994" y="660" width="35" height="17" fill="#f86c00"/>
<rect x="1029" y="660" width="17" height="17" fill="#f88000"/>
<rect x="1046" y="660" width="17" height="17" fill="#eeac00"/>
<rect x="1063" y="660" width="17" height="17" fill="#b8f208"/>
<rect x="1080" y="660" width="17" height="17" fill="#60e040"/>
<rect x="1097" y="660" width="17" height="17" fill="#0098c8"/>
<rect x="1114" y="660" width="17" height="17" fill="#04ae98"/>
<rect x="1131" y="660" width="17" height="17" fill="#1424f8"/>
<rect x="1148" y="660" width="17" height="17" fill="#0080e0"/>
<rect x="1165" y="660" width="17" height="17" fill="#045cff"/>
<rect x="1182" y="660" width="17" height="17" fill="#000060"/>
<rect x="1199" y="660" width="17" height="17" fill="#04ae98"/>
<rect x="1216" y="660" width="51" height="17" fill="#000060"/>
<rect x="1284" y="660" width="17" height="17" fill="#000060"/>
<rect x="1352" y="660" width="17" height="17" fill="#1424f8"/>
<rect x="1421" y="660" width="17" height="17" fill="#000060"/>
<rect x="1506" y="660" width="17" height="17" fill="#000060"/>
<rect x="1540" y="660" width="17" height="17" fill="#000060"/>
<rect x="1574" y="660" width="34" height="17" fill="#000060"/>
<rect x="790" y="677" width="17" height="17" fill="#000060"/>
<rect x="807" y="677" width="17" height="17" fill="#20c868"/>
<rect x="824" y="677" width="17" height="17" fill="#60e040"/>
<rect x="841" y="677" width="17" height="17" fill="#10bc80"/>
<rect x="858" y="677" width="17" height="17" fill="#b8f208"/>
<rect x="875" y="677" width="34" height="17" fill="#90ec28"/>
<rect x="909" y="677" width="34" height="17" fill="#e2da00"/>
<rect x="943" y="677" width="17" height="17" fill="#eeac00"/>
<rect x="960" y="677" width="69" height="17" fill="#f86c00"/>
<rect x="1029" y="677" width="17" height="17" fill="#f49400"/>
<rect x="1046" y="677" width="17" height="17" fill="#b8f208"/>
<rect x="1063" y="677" width="17" height="17" fill="#20c868"/>
<rect x="1080" y="677" width="17" height="17" fill="#04ae98"/>
<rect x="1097" y="677" width="17" height="17" fill="#0098c8"/>
<rect x="1114" y="677" width="17" height="17" fill="#045cff"/>
<rect x="1131" y="677" width="17" height="17" fill="#0098c8"/>
<rect x="1148" y="677" width="17" height="17" fill="#045cff"/>
<rect x="1165" y="677" width="17" height="17" fill="#1424f8"/>
<rect x="1182" y="677" width="34" height="17" fill="#045cff"/>
<rect x="1267" y="677" width="17" height="17" fill="#0080e0"/>
<rect x="1284" y="677" width="17" height="17" fill="#045cff"/>
<rect x="1301" y="677" width="51" height="17" fill="#000060"/>
<rect x="1591" y="677" width="17" height="17" fill="#00a4ac"/>
<rect x="807" y="694" width="17" height="17" fill="#000060"/>
<rect x="824" y="694" width="17" height="17" fill="#20c868"/>
<rect x="841" y="694" width="17" height="17" fill="#90ec28"/>
<rect x="858" y="694" width="17" height="17" fill="#b8f208"/>
<rect x="875" y="694" width="17" height="17" fill="#d4e800"/>
<rect x="892" y="694" width="17" height="17" fill="#e2da00"/>
<rect x="909" y="694" width="17" height="17" fill="#e8c400"/>
<rect x="926" y="694" width="17" height="17" fill="#f49400"/>
<rect x="943" y="694" width="17" height="17" fill="#f86c00"/>
<rect x="960" y="694" width="34" height="17" fill="#f65c00"/>
<rect x="994" y="694" width="18" height="17" fill="#f86c00"/>
<rect x="1012" y="694" width="17" height="17" fill="#eeac00"/>
<rect x="1029" y="694" width="17" height="17" fill="#e8c400"/>
<rect x="1046" y="694" width="17" height="17" fill="#90ec28"/>
<rect x="1063" y="694" width="34" height="17" fill="#04ae98"/>
<rect x="1097" y="694" width="17" height="17" fill="#00a4ac"/>
<rect x="1114" y="694" width="17" height="17" fill="#0098c8"/>
<rect x="1131" y="694" width="17" height="17" fill="#1424f8"/>
<rect x="1148" y="694" width="17" height="17" fill="#000060"/>
<rect x="1182" y="694" width="17" height="17" fill="#1424f8"/>
<rect x="1199" y="694" width="17" height="17" fill="#0080e0"/>
<rect x="1233" y="694" width="17" height="17" fill="#000060"/>
<rect x="1250" y="694" width="17" height="17" fill="#1424f8"/>
<rect x="1284" y="694" width="34" height="17" fill="#000060"/>
<rect x="1335" y="694" width="17" height="17" fill="#000060"/>
<rect x="1438" y="694" width="17" height="17" fill="#1424f8"/>
<rect x="1472" y="694" width="34" height="17" fill="#000060"/>
<rect x="1591" y="694" width="17" height="17" fill="#0098c8"/>
<rect x="790" y="711" width="17" height="17" fill="#000060"/>
<rect x="841" y="711" width="17" height="17" fill="#1424f8"/>
<rect x="858" y="711" width="17" height="17" fill="#10bc80"/>
<rect x="875" y="711" width="17" height="17" fill="#d4e800"/>
<rect x="892" y="711" width="17" height="17" fill="#eeac00"/>
<rect x="909" y="711" width="17" height="17" fill="#f88000"/>
<rect x="926" y="711" width="17" height="17" fill="#f86c00"/>
<rect x="943" y="711" width="17" height="17" fill="#f04c00"/>
<rect x="960" y="711" width="17" height="17" fill="#f65c00"/>
<rect x="977" y="711" width="17" height="17" fill="#f86c00"/>
<rect x="994" y="711" width="18" height="17" fill="#f49400"/>
<rect x="1012" y="711" width="17" height="17" fill="#d4e800"/>
<rect x="1029" y="711" width="17" height="17" fill="#90ec28"/>
<rect x="1046" y="711" width="34" height="17" fill="#20c868"/>
<rect x="1080" y="711" width="17" height="17" fill="#04ae98"/>
<rect x="1097" y="711" width="17" height="17" fill="#045cff"/>
<rect x="1114" y="711" width="17" height="17" fill="#1424f8"/>
<rect x="1131" y="711" width="17" height="17" fill="#000060"/>
<rect x="1148" y="711" width="17" height="17" fill="#1424f8"/>
<rect x="1165" y="711" width="34" height="17" fill="#000060"/>
<rect x="1199" y="711" width="34" height="17" fill="#1424f8"/>
<rect x="1233" y="711" width="17" height="17" fill="#000060"/>
<rect x="1250" y="711" width="17" height="17" fill="#1424f8"/>
<rect x="1284" y="711" width="17" height="17" fill="#000060"/>
<rect x="1506" y="711" width="17" height="17" fill="#000060"/>
<rect x="1591" y="711" width="17" height="17" fill="#1424f8"/>
<rect x="1608" y="711" width="17" height="17" fill="#000060"/>
<rect x="466" y="728" width="17" height="17" fill="#000060"/>
<rect x="875" y="728" width="17" height="17" fill="#40d654"/>
<rect x="892" y="728" width="17" height="17" fill="#f49400"/>
<rect x="909" y="728" width="17" height="17" fill="#f86c00"/>
<rect x="926" y="728" width="34" height="17" fill="#f04c00"/>
<rect x="960" y="728" width="17" height="17" fill="#f86c00"/>
<rect x="977" y="728" width="17" height="17" fill="#eeac00"/>
<rect x="994" y="728" width="18" height="17" fill="#d4e800"/>
<rect x="1012" y="728" width="17" height="17" fill="#60e040"/>
<rect x="1029" y="728" width="17" height="17" fill="#20c868"/>
<rect x="1046" y="728" width="17" height="17" fill="#00a4ac"/>
<rect x="1063" y="728" width="17" height="17" fill="#04ae98"/>
<rect x="1080" y="728" width="17" height="17" fill="#000060"/>
<rect x="1097" y="728" width="17" height="17" fill="#0080e0"/>
<rect x="1114" y="728" width="17" height="17" fill="#0098c8"/>
<rect x="1131" y="728" width="17" height="17" fill="#1424f8"/>
<rect x="1148" y="728" width="17" height="17" fill="#000060"/>
<rect x="1165" y="728" width="17" height="17" fill="#1424f8"/>
<rect x="1182" y="728" width="17" height="17" fill="#000060"/>
<rect x="1216" y="728" width="17" height="17" fill="#000060"/>
<rect x="1250" y="728" width="17" height="17" fill="#000060"/>
<rect x="1284" y="728" width="34" height="17" fill="#000060"/>
<rect x="1335" y="728" width="34" height="17" fill="#000060"/>
<rect x="1404" y="728" width="17" height="17" fill="#000060"/>
<rect x="1591" y="728" width="17" height="17" fill="#1424f8"/>
<rect x="1608" y="728" width="17" height="17" fill="#000060"/>
<rect x="824" y="745" width="17" height="17" fill="#000060"/>
<rect x="892" y="745" width="17" height="17" fill="#04ae98"/>
<rect x="909" y="745" width="17" height="17" fill="#e2da00"/>
<rect x="926" y="745" width="17" height="17" fill="#f86c00"/>
<rect x="943" y="745" width="17" height="17" fill="#f04c00"/>
<rect x="960" y="745" width="17" height="17" fill="#f88000"/>
<rect x="977" y="745" width="17" height="17" fill="#e2da00"/>
<rect x="994" y="745" width="18" height="17" fill="#40d654"/>
<rect x="1012" y="745" width="17" height="17" fill="#20c868"/>
<rect x="1029" y="745" width="17" height="17" fill="#0098c8"/>
<rect x="1046" y="745" width="17" height="17" fill="#0080e0"/>
<rect x="1063" y="745" width="17" height="17" fill="#045cff"/>
<rect x="1080" y="745" width="17" height="17" fill="#0098c8"/>
<rect x="1097" y="745" width="17" height="17" fill="#000060"/>
<rect x="1114" y="745" width="17" height="17" fill="#0098c8"/>
<rect x="1148" y="745" width="17" height="17" fill="#1424f8"/>
<rect x="1165" y="745" width="17" height="17" fill="#045cff"/>
<rect x="1182" y="745" width="68" height="17" fill="#000060"/>
<rect x="1301" y="745" width="17" height="17" fill="#000060"/>
<rect x="1335" y="745" width="17" height="17" fill="#045cff"/>
<rect x="1369" y="745" width="17" height="17" fill="#000060"/>
<rect x="1472" y="745" width="17" height="17" fill="#000060"/>
<rect x="1591" y="745" width="17" height="17" fill="#045cff"/>
<rect x="773" y="762" width="17" height="18" fill="#000060"/>
<rect x="909" y="762" width="17" height="18" fill="#000060"/>
<rect x="926" y="762" width="17" height="18" fill="#00a4ac"/>
<rect x="943" y="762" width="17" height="18" fill="#e2da00"/>
<rect x="960" y="762" width="17" height="18" fill="#e8c400"/>
<rect x="977" y="762" width="17" height="18" fill="#b8f208"/>
<rect x="994" y="762" width="18" height="18" fill="#04ae98"/>
<rect x="1012" y="762" width="34" height="18" fill="#00a4ac"/>
<rect x="1046" y="762" width="17" height="18" fill="#0098c8"/>
<rect x="1063" y="762" width="17" height="18" fill="#00a4ac"/>
<rect x="1080" y="762" width="17" height="18" fill="#1424f8"/>
<rect x="1097" y="762" width="17" height="18" fill="#000060"/>
<rect x="1114" y="762" width="17" height="18" fill="#045cff"/>
<rect x="1131" y="762" width="17" height="18" fill="#000060"/>
<rect x="1148" y="762" width="34" height="18" fill="#1424f8"/>
<rect x="1182" y="762" width="17" height="18" fill="#000060"/>
<rect x="1233" y="762" width="17" height="18" fill="#000060"/>
<rect x="1250" y="762" width="17" height="18" fill="#1424f8"/>
<rect x="1267" y="762" width="34" height="18" fill="#000060"/>
<rect x="1404" y="762" width="17" height="18" fill="#000060"/>
<rect x="1523" y="762" width="17" height="18" fill="#000060"/>
<rect x="1540" y="762" width="17" height="18" fill="#1424f8"/>
<rect x="1591" y="762" width="17" height="18" fill="#20c868"/>
<rect x="296" y="780" width="17" height="17" fill="#000060"/>
<rect x="722" y="780" width="17" height="17" fill="#000060"/>
<rect x="841" y="780" width="17" height="17" fill="#000060"/>
<rect x="926" y="780" width="17" height="17" fill="#000060"/>
<rect x="960" y="780" width="17" height="17" fill="#1424f8"/>
<rect x="977" y="780" width="17" height="17" fill="#0080e0"/>
<rect x="994" y="780" width="18" height="17" fill="#04ae98"/>
<rect x="1012" y="780" width="17" height="17" fill="#045cff"/>
<rect x="1029" y="780" width="17" height="17" fill="#00a4ac"/>
<rect x="1046" y="780" width="17" height="17" fill="#045cff"/>
<rect x="1063" y="780" width="17" height="17" fill="#0098c8"/>
<rect x="1080" y="780" width="17" height="17" fill="#045cff"/>
<rect x="1114" y="780" width="17" height="17" fill="#000060"/>
<rect x="1131" y="780" width="17" height="17" fill="#1424f8"/>
<rect x="1148" y="780" width="17" height="17" fill="#0098c8"/>
<rect x="1182" y="780" width="17" height="17" fill="#1424f8"/>
<rect x="1199" y="780" width="51" height="17" fill="#000060"/>
<rect x="1267" y="780" width="51" height="17" fill="#000060"/>
<rect x="1369" y="780" width="17" height="17" fill="#000060"/>
<rect x="1455" y="780" width="17" height="17" fill="#000060"/>
<rect x="1574" y="780" width="17" height="17" fill="#000060"/>
<rect x="1591" y="780" width="17" height="17" fill="#04ae98"/>
<rect x="756" y="797" width="17" height="17" fill="#000060"/>
<rect x="790" y="797" width="17" height="17" fill="#000060"/>
<rect x="994" y="797" width="18" height="17" fill="#000060"/>
<rect x="1029" y="797" width="17" height="17" fill="#1424f8"/>
<rect x="1046" y="797" width="17" height="17" fill="#0080e0"/>
<rect x="1063" y="797" width="17" height="17" fill="#000060"/>
<rect x="1080" y="797" width="17" height="17" fill="#045cff"/>
<rect x="1097" y="797" width="17" height="17" fill="#0080e0"/>
<rect x="1114" y="797" width="17" height="17" fill="#0098c8"/>
<rect x="1131" y="797" width="17" height="17" fill="#045cff"/>
<rect x="1148" y="797" width="34" height="17" fill="#000060"/>
<rect x="1199" y="797" width="34" height="17" fill="#000060"/>
<rect x="1318" y="797" width="17" height="17" fill="#000060"/>
<rect x="1421" y="797" width="17" height="17" fill="#000060"/>
<rect x="1455" y="797" width="17" height="17" fill="#000060"/>
<rect x="1506" y="797" width="17" height="17" fill="#000060"/>
<rect x="1574" y="797" width="17" height="17" fill="#000060"/>
<rect x="1591" y="797" width="17" height="17" fill="#10bc80"/>
<rect x="1608" y="797" width="17" height="17" fill="#000060"/>
<rect x="1029" y="814" width="17" height="17" fill="#000060"/>
<rect x="1046" y="814" width="17" height="17" fill="#1424f8"/>
<rect x="1063" y="814" width="17" height="17" fill="#0080e0"/>
<rect x="1080" y="814" width="34" height="17" fill="#000060"/>
<rect x="1114" y="814" width="17" height="17" fill="#1424f8"/>
<rect x="1131" y="814" width="17" height="17" fill="#045cff"/>
<rect x="1148" y="814" width="17" height="17" fill="#1424f8"/>
<rect x="1182" y="814" width="34" height="17" fill="#000060"/>
<rect x="1233" y="814" width="17" height="17" fill="#000060"/>
<rect x="1318" y="814" width="17" height="17" fill="#000060"/>
<rect x="1369" y="814" width="52" height="17" fill="#000060"/>
<rect x="1438" y="814" width="34" height="17" fill="#000060"/>
<rect x="1489" y="814" width="17" height="17" fill="#000060"/>
<rect x="1574" y="814" width="17" height="17" fill="#000060"/>
<rect x="1591" y="814" width="17" height="17" fill="#20c868"/>
<rect x="585" y="831" width="17" height="17" fill="#000060"/>
<rect x="773" y="831" width="34" height="17" fill="#000060"/>
<rect x="1063" y="831" width="51" height="17" fill="#000060"/>
<rect x="1148" y="831" width="17" height="17" fill="#000060"/>
<rect x="1165" y="831" width="17" height="17" fill="#0080e0"/>
<rect x="1182" y="831" width="17" height="17" fill="#000060"/>
<rect x="1199" y="831" width="17" height="17" fill="#1424f8"/>
<rect x="1216" y="831" width="17" height="17" fill="#000060"/>
<rect x="1301" y="831" width="17" height="17" fill="#000060"/>
<rect x="1386" y="831" width="18" height="17" fill="#000060"/>
<rect x="1489" y="831" width="17" height="17" fill="#000060"/>
<rect x="1557" y="831" width="17" height="17" fill="#1424f8"/>
<rect x="1591" y="831" width="17" height="17" fill="#20c868"/>
<rect x="756" y="848" width="17" height="17" fill="#000060"/>
<rect x="807" y="848" width="17" height="17" fill="#000060"/>
<rect x="841" y="848" width="17" height="17" fill="#000060"/>
<rect x="1097" y="848" width="17" height="17" fill="#000060"/>
<rect x="1131" y="848" width="34" height="17" fill="#1424f8"/>
<rect x="1165" y="848" width="17" height="17" fill="#0098c8"/>
<rect x="1182" y="848" width="17" height="17" fill="#000060"/>
<rect x="1199" y="848" width="17" height="17" fill="#1424f8"/>
<rect x="1216" y="848" width="17" height="17" fill="#000060"/>
<rect x="1250" y="848" width="17" height="17" fill="#000060"/>
<rect x="1267" y="848" width="17" height="17" fill="#045cff"/>
<rect x="1335" y="848" width="51" height="17" fill="#000060"/>
<rect x="1574" y="848" width="17" height="17" fill="#000060"/>
<rect x="1591" y="848" width="17" height="17" fill="#04ae98"/>
<rect x="1608" y="848" width="17" height="17" fill="#000060"/>
<rect x="1165" y="865" width="34" height="17" fill="#000060"/>
<rect x="1199" y="865" width="17" height="17" fill="#045cff"/>
<rect x="1233" y="865" width="17" height="17" fill="#000060"/>
<rect x="1267" y="865" width="17" height="17" fill="#1424f8"/>
<rect x="1301" y="865" width="34" height="17" fill="#000060"/>
<rect x="1404" y="865" width="17" height="17" fill="#000060"/>
<rect x="1472" y="865" width="34" height="17" fill="#000060"/>
<rect x="1574" y="865" width="17" height="17" fill="#000060"/>
<rect x="1591" y="865" width="17" height="17" fill="#b8f208"/>
<rect x="415" y="882" width="17" height="17" fill="#000060"/>
<rect x="756" y="882" width="17" height="17" fill="#000060"/>
<rect x="1199" y="882" width="17" height="17" fill="#1424f8"/>
<rect x="1216" y="882" width="17" height="17" fill="#000060"/>
<rect x="1233" y="882" width="17" height="17" fill="#1424f8"/>
<rect x="1284" y="882" width="51" height="17" fill="#000060"/>
<rect x="1386" y="882" width="18" height="17" fill="#1424f8"/>
<rect x="1523" y="882" width="17" height="17" fill="#000060"/>
<rect x="1574" y="882" width="17" height="17" fill="#1424f8"/>
<rect x="1591" y="882" width="17" height="17" fill="#b8f208"/>
<rect x="773" y="899" width="17" height="17" fill="#000060"/>
<rect x="1182" y="899" width="17" height="17" fill="#000060"/>
<rect x="1216" y="899" width="17" height="17" fill="#000060"/>
<rect x="1233" y="899" width="17" height="17" fill="#1424f8"/>
<rect x="1250" y="899" width="17" height="17" fill="#045cff"/>
<rect x="1301" y="899" width="17" height="17" fill="#000060"/>
<rect x="1404" y="899" width="17" height="17" fill="#000060"/>
<rect x="1472" y="899" width="17" height="17" fill="#000060"/>
<rect x="1540" y="899" width="17" height="17" fill="#1424f8"/>
<rect x="1557" y="899" width="34" height="17" fill="#000060"/>
<rect x="1591" y="899" width="17" height="17" fill="#b8f208"/>
<rect x="1608" y="899" width="17" height="17" fill="#000060"/>
<rect x="722" y="916" width="17" height="17" fill="#000060"/>
<rect x="1216" y="916" width="17" height="17" fill="#1424f8"/>
<rect x="1250" y="916" width="17" height="17" fill="#1424f8"/>
<rect x="1352" y="916" width="34" height="17" fill="#000060"/>
<rect x="1421" y="916" width="17" height="17" fill="#000060"/>
<rect x="1438" y="916" width="34" height="17" fill="#1424f8"/>
<rect x="1540" y="916" width="34" height="17" fill="#000060"/>
<rect x="1591" y="916" width="17" height="17" fill="#d4e800"/>
<rect x="1250" y="933" width="34" height="17" fill="#000060"/>
<rect x="1284" y="933" width="17" height="17" fill="#1424f8"/>
<rect x="1318" y="933" width="34" height="17" fill="#000060"/>
<rect x="1369" y="933" width="17" height="17" fill="#000060"/>
<rect x="1404" y="933" width="17" height="17" fill="#000060"/>
<rect x="1438" y="933" width="51" height="17" fill="#000060"/>
<rect x="1489" y="933" width="17" height="17" fill="#1424f8"/>
<rect x="1506" y="933" width="17" height="17" fill="#000060"/>
<rect x="1523" y="933" width="17" height="17" fill="#045cff"/>
<rect x="1540" y="933" width="17" height="17" fill="#1424f8"/>
<rect x="1557" y="933" width="17" height="17" fill="#000060"/>
<rect x="1574" y="933" width="17" height="17" fill="#0098c8"/>
<rect x="1591" y="933" width="17" height="17" fill="#d4e800"/>
<rect x="1267" y="950" width="17" height="17" fill="#1424f8"/>
<rect x="1301" y="950" width="17" height="17" fill="#000060"/>
<rect x="1335" y="950" width="17" height="17" fill="#000060"/>
<rect x="1352" y="950" width="17" height="17" fill="#1424f8"/>
<rect x="1386" y="950" width="18" height="17" fill="#1424f8"/>
<rect x="1404" y="950" width="17" height="17" fill="#000060"/>
<rect x="1421" y="950" width="17" height="17" fill="#1424f8"/>
<rect x="1472" y="950" width="34" height="17" fill="#1424f8"/>
<rect x="1506" y="950" width="34" height="17" fill="#000060"/>
<rect x="1540" y="950" width="34" height="17" fill="#1424f8"/>
<rect x="1574" y="950" width="17" height="17" fill="#00a4ac"/>
<rect x="1591" y="950" width="17" height="17" fill="#eab800"/>
<rect x="1608" y="950" width="17" height="17" fill="#000060"/>
<rect x="1284" y="967" width="17" height="17" fill="#000060"/>
<rect x="1318" y="967" width="34" height="17" fill="#045cff"/>
<rect x="1352" y="967" width="17" height="17" fill="#1424f8"/>
<rect x="1386" y="967" width="18" height="17" fill="#000060"/>
<rect x="1404" y="967" width="17" height="17" fill="#1424f8"/>
<rect x="1421" y="967" width="17" height="17" fill="#000060"/>
<rect x="1455" y="967" width="17" height="17" fill="#000060"/>
<rect x="1472" y="967" width="17" height="17" fill="#1424f8"/>
<rect x="1489" y="967" width="34" height="17" fill="#000060"/>
<rect x="1523" y="967" width="34" height="17" fill="#1424f8"/>
<rect x="1574" y="967" width="17" height="17" fill="#04ae98"/>
<rect x="1591" y="967" width="17" height="17" fill="#eab800"/>
<rect x="1080" y="984" width="17" height="17" fill="#000060"/>
<rect x="1335" y="984" width="17" height="17" fill="#000060"/>
<rect x="1369" y="984" width="35" height="17" fill="#000060"/>
<rect x="1404" y="984" width="17" height="17" fill="#1424f8"/>
<rect x="1438" y="984" width="17" height="17" fill="#0080e0"/>
<rect x="1455" y="984" width="17" height="17" fill="#045cff"/>
<rect x="1472" y="984" width="17" height="17" fill="#000060"/>
<rect x="1506" y="984" width="17" height="17" fill="#1424f8"/>
<rect x="1523" y="984" width="17" height="17" fill="#000060"/>
<rect x="1540" y="984" width="34" height="17" fill="#1424f8"/>
<rect x="1574" y="984" width="17" height="17" fill="#04ae98"/>
<rect x="1591" y="984" width="17" height="17" fill="#eeac00"/>
<rect x="1608" y="984" width="17" height="17" fill="#045cff"/>
<rect x="1369" y="1001" width="17" height="17" fill="#045cff"/>
<rect x="1386" y="1001" width="18" height="17" fill="#000060"/>
<rect x="1404" y="1001" width="17" height="17" fill="#0080e0"/>
<rect x="1421" y="1001" width="34" height="17" fill="#045cff"/>
<rect x="1455" y="1001" width="17" height="17" fill="#0080e0"/>
<rect x="1472" y="1001" width="17" height="17" fill="#000060"/>
<rect x="1489" y="1001" width="17" height="17" fill="#1424f8"/>
<rect x="1506" y="1001" width="17" height="17" fill="#045cff"/>
<rect x="1540" y="1001" width="17" height="17" fill="#045cff"/>
<rect x="1557" y="1001" width="17" height="17" fill="#0098c8"/>
<rect x="1574" y="1001" width="17" height="17" fill="#04ae98"/>
<rect x="1591" y="1001" width="17" height="17" fill="#f49400"/>
<rect x="1608" y="1001" width="17" height="17" fill="#000060"/>
<rect x="1404" y="1018" width="17" height="17" fill="#000060"/>
<rect x="1421" y="1018" width="17" height="17" fill="#0098c8"/>
<rect x="1438" y="1018" width="17" height="17" fill="#0080e0"/>
<rect x="1455" y="1018" width="17" height="17" fill="#1424f8"/>
<rect x="1472" y="1018" width="17" height="17" fill="#000060"/>
<rect x="1489" y="1018" width="51" height="17" fill="#0098c8"/>
<rect x="1540" y="1018" width="34" height="17" fill="#1424f8"/>
<rect x="1574" y="1018" width="17" height="17" fill="#045cff"/>
<rect x="1591" y="1018" width="17" height="17" fill="#f88000"/>
<rect x="1608" y="1018" width="17" height="17" fill="#1424f8"/>
<rect x="1404" y="1035" width="34" height="17" fill="#000060"/>
<rect x="1438" y="1035" width="17" height="17" fill="#1424f8"/>
<rect x="1455" y="1035" width="17" height="17" fill="#0098c8"/>
<rect x="1472" y="1035" width="17" height="17" fill="#0080e0"/>
<rect x="1489" y="1035" width="17" height="17" fill="#045cff"/>
<rect x="1506" y="1035" width="17" height="17" fill="#0080e0"/>
<rect x="1523" y="1035" width="17" height="17" fill="#045cff"/>
<rect x="1540" y="1035" width="17" height="17" fill="#0080e0"/>
<rect x="1557" y="1035" width="17" height="17" fill="#045cff"/>
<rect x="1574" y="1035" width="17" height="17" fill="#04ae98"/>
<rect x="1591" y="1035" width="17" height="17" fill="#f86c00"/>
<rect x="1608" y="1035" width="17" height="17" fill="#0080e0"/>
<rect x="585" y="1052" width="17" height="17" fill="#000060"/>
<rect x="1421" y="1052" width="17" height="17" fill="#000060"/>
<rect x="1455" y="1052" width="34" height="17" fill="#045cff"/>
<rect x="1489" y="1052" width="17" height="17" fill="#0080e0"/>
<rect x="1506" y="1052" width="17" height="17" fill="#10bc80"/>
<rect x="1523" y="1052" width="17" height="17" fill="#04ae98"/>
<rect x="1540" y="1052" width="17" height="17" fill="#00a4ac"/>
<rect x="1557" y="1052" width="17" height="17" fill="#0098c8"/>
<rect x="1574" y="1052" width="17" height="17" fill="#40d654"/>
<rect x="1591" y="1052" width="17" height="17" fill="#f88000"/>
<rect x="568" y="1069" width="17" height="17" fill="#000060"/>
<rect x="602" y="1069" width="18" height="17" fill="#000060"/>
<rect x="1438" y="1069" width="17" height="17" fill="#000060"/>
<rect x="1472" y="1069" width="17" height="17" fill="#045cff"/>
<rect x="1489" y="1069" width="17" height="17" fill="#000060"/>
<rect x="1506" y="1069" width="17" height="17" fill="#04ae98"/>
<rect x="1523" y="1069" width="17" height="17" fill="#0098c8"/>
<rect x="1540" y="1069" width="17" height="17" fill="#045cff"/>
<rect x="1557" y="1069" width="17" height="17" fill="#10bc80"/>
<rect x="1574" y="1069" width="17" height="17" fill="#60e040"/>
<rect x="1591" y="1069" width="17" height="17" fill="#f86c00"/>
<rect x="1608" y="1069" width="17" height="17" fill="#1424f8"/>
<rect x="1506" y="1086" width="17" height="17" fill="#000060"/>
<rect x="1523" y="1086" width="17" height="17" fill="#0080e0"/>
<rect x="1540" y="1086" width="17" height="17" fill="#045cff"/>
<rect x="1557" y="1086" width="17" height="17" fill="#04ae98"/>
<rect x="1574" y="1086" width="17" height="17" fill="#20c868"/>
<rect x="1591" y="1086" width="17" height="17" fill="#f65c00"/>
<rect x="1608" y="1086" width="17" height="17" fill="#00a4ac"/>
<rect x="1523" y="1103" width="34" height="18" fill="#000060"/>
<rect x="1557" y="1103" width="17" height="18" fill="#0098c8"/>
<rect x="1574" y="1103" width="17" height="18" fill="#20c868"/>
<rect x="1591" y="1103" width="17" height="18" fill="#f86c00"/>
<rect x="1608" y="1103" width="17" height="18" fill="#0080e0"/>
<rect x="688" y="1121" width="17" height="17" fill="#000060"/>
<rect x="1557" y="1121" width="34" height="17" fill="#0080e0"/>
<rect x="1591" y="1121" width="17" height="17" fill="#f86c00"/>
<rect x="1608" y="1121" width="17" height="17" fill="#10bc80"/>
<rect x="176" y="1138" width="17" height="17" fill="#000060"/>
<rect x="1574" y="1138" width="17" height="17" fill="#00a4ac"/>
<rect x="1591" y="1138" width="17" height="17" fill="#f88000"/>
<rect x="1608" y="1138" width="17" height="17" fill="#045cff"/>
<rect x="1574" y="1155" width="17" height="17" fill="#1424f8"/>
<rect x="1591" y="1155" width="17" height="17" fill="#e8c400"/>
<rect x="1608" y="1155" width="17" height="17" fill="#1424f8"/>
<rect x="1369" y="1172" width="17" height="17" fill="#000060"/>
<rect x="1574" y="1172" width="17" height="17" fill="#000060"/>
<rect x="1591" y="1172" width="17" height="17" fill="#40d654"/>
<rect x="1608" y="1172" width="17" height="17" fill="#000060"/>
<rect x="926" y="1189" width="17" height="17" fill="#000060"/>
<rect x="1591" y="1189" width="17" height="17" fill="#1424f8"/>
</g>
<g stroke="#cccccc" stroke-opacity="0.9" stroke-width="2.22" fill="none">
<line x1="253" y1="208" x2="253" y2="1231"/>
<line x1="338" y1="208" x2="338" y2="1231"/>
<line x1="424" y1="208" x2="424" y2="1231"/>
<line x1="509" y1="208" x2="509" y2="1231"/>
<line x1="594" y1="208" x2="594" y2="1231"/>
<line x1="679" y1="208" x2="679" y2="1231"/>
<line x1="764" y1="208" x2="764" y2="1231"/>
<line x1="850" y1="208" x2="850" y2="1231"/>
<line x1="935" y1="208" x2="935" y2="1231"/>
<line x1="1020" y1="208" x2="1020" y2="1231"/>
<line x1="1105" y1="208" x2="1105" y2="1231"/>
<line x1="1190" y1="208" x2="1190" y2="1231"/>
<line x1="1276" y1="208" x2="1276" y2="1231"/>
<line x1="1361" y1="208" x2="1361" y2="1231"/>
<line x1="1446" y1="208" x2="1446" y2="1231"/>
<line x1="1531" y1="208" x2="1531" y2="1231"/>
<line x1="1617" y1="208" x2="1617" y2="1231"/>
<line x1="168" y1="1146" x2="1702" y2="1146"/>
<line x1="168" y1="1061" x2="1702" y2="1061"/>
<line x1="168" y1="976" x2="1702" y2="976"/>
<line x1="168" y1="890" x2="1702" y2="890"/>
<line x1="168" y1="805" x2="1702" y2="805"/>
<line x1="168" y1="720" x2="1702" y2="720"/>
<line x1="168" y1="635" x2="1702" y2="635"/>
<line x1="168" y1="549" x2="1702" y2="549"/>
<line x1="168" y1="464" x2="1702" y2="464"/>
<line x1="168" y1="379" x2="1702" y2="379"/>
<line x1="168" y1="294" x2="1702" y2="294"/>
</g>
<g stroke="#000" stroke-width="2.22" fill="none">
<line x1="592" y1="208" x2="592" y2="1231"/>
<line x1="1272" y1="208" x2="1272" y2="1231"/>
<line x1="168" y1="307" x2="1702" y2="307"/>
<line x1="168" y1="500" x2="1702" y2="500"/>
</g>
<g stroke="#000" stroke-opacity="0.92" stroke-width="2.22" fill="none">
<rect x="168" y="208" width="1534" height="1023"/>
<line x1="168" y1="1231" x2="168" y2="1245.2"/>
<line x1="168" y1="208" x2="168" y2="193.8"/>
<line x1="253" y1="1231" x2="253" y2="1245.2"/>
<line x1="253" y1="208" x2="253" y2="193.8"/>
<line x1="338" y1="1231" x2="338" y2="1245.2"/>
<line x1="338" y1="208" x2="338" y2="193.8"/>
<line x1="424" y1="1231" x2="424" y2="1245.2"/>
<line x1="424" y1="208" x2="424" y2="193.8"/>
<line x1="509" y1="1231" x2="509" y2="1245.2"/>
<line x1="509" y1="208" x2="509" y2="193.8"/>
<line x1="594" y1="1231" x2="594" y2="1245.2"/>
<line x1="594" y1="208" x2="594" y2="193.8"/>
<line x1="679" y1="1231" x2="679" y2="1245.2"/>
<line x1="679" y1="208" x2="679" y2="193.8"/>
<line x1="764" y1="1231" x2="764" y2="1245.2"/>
<line x1="764" y1="208" x2="764" y2="193.8"/>
<line x1="850" y1="1231" x2="850" y2="1245.2"/>
<line x1="850" y1="208" x2="850" y2="193.8"/>
<line x1="935" y1="1231" x2="935" y2="1245.2"/>
<line x1="935" y1="208" x2="935" y2="193.8"/>
<line x1="1020" y1="1231" x2="1020" y2="1245.2"/>
<line x1="1020" y1="208" x2="1020" y2="193.8"/>
<line x1="1105" y1="1231" x2="1105" y2="1245.2"/>
<line x1="1105" y1="208" x2="1105" y2="193.8"/>
<line x1="1190" y1="1231" x2="1190" y2="1245.2"/>
<line x1="1190" y1="208" x2="1190" y2="193.8"/>
<line x1="1276" y1="1231" x2="1276" y2="1245.2"/>
<line x1="1276" y1="208" x2="1276" y2="193.8"/>
<line x1="1361" y1="1231" x2="1361" y2="1245.2"/>
<line x1="1361" y1="208" x2="1361" y2="193.8"/>
<line x1="1446" y1="1231" x2="1446" y2="1245.2"/>
<line x1="1446" y1="208" x2="1446" y2="193.8"/>
<line x1="1531" y1="1231" x2="1531" y2="1245.2"/>
<line x1="1531" y1="208" x2="1531" y2="193.8"/>
<line x1="1617" y1="1231" x2="1617" y2="1245.2"/>
<line x1="1617" y1="208" x2="1617" y2="193.8"/>
<line x1="1702" y1="1231" x2="1702" y2="1245.2"/>
<line x1="1702" y1="208" x2="1702" y2="193.8"/>
<line x1="168" y1="1231" x2="153.8" y2="1231"/>
<line x1="1702" y1="1231" x2="1716.2" y2="1231"/>
<line x1="168" y1="1146" x2="153.8" y2="1146"/>
<line x1="1702" y1="1146" x2="1716.2" y2="1146"/>
<line x1="168" y1="1061" x2="153.8" y2="1061"/>
<line x1="1702" y1="1061" x2="1716.2" y2="1061"/>
<line x1="168" y1="976" x2="153.8" y2="976"/>
<line x1="1702" y1="976" x2="1716.2" y2="976"/>
<line x1="168" y1="890" x2="153.8" y2="890"/>
<line x1="1702" y1="890" x2="1716.2" y2="890"/>
<line x1="168" y1="805" x2="153.8" y2="805"/>
<line x1="1702" y1="805" x2="1716.2" y2="805"/>
<line x1="168" y1="720" x2="153.8" y2="720"/>
<line x1="1702" y1="720" x2="1716.2" y2="720"/>
<line x1="168" y1="635" x2="153.8" y2="635"/>
<line x1="1702" y1="635" x2="1716.2" y2="635"/>
<line x1="168" y1="549" x2="153.8" y2="549"/>
<line x1="1702" y1="549" x2="1716.2" y2="549"/>
<line x1="168" y1="464" x2="153.8" y2="464"/>
<line x1="1702" y1="464" x2="1716.2" y2="464"/>
<line x1="168" y1="379" x2="153.8" y2="379"/>
<line x1="1702" y1="379" x2="1716.2" y2="379"/>
<line x1="168" y1="294" x2="153.8" y2="294"/>
<line x1="1702" y1="294" x2="1716.2" y2="294"/>
<line x1="168" y1="208" x2="153.8" y2="208"/>
<line x1="1702" y1="208" x2="1716.2" y2="208"/>
</g>
<g font-size="27.6" text-anchor="middle">
<text x="167.30" y="1273.80">80</text>
<text x="252.30" y="1273.80">85</text>
<text x="337.30" y="1273.80">90</text>
<text x="423.30" y="1273.80">95</text>
<text x="508.30" y="1273.80">100</text>
<text x="593.30" y="1273.80">105</text>
<text x="678.30" y="1273.80">110</text>
<text x="763.30" y="1273.80">115</text>
<text x="849.30" y="1273.80">120</text>
<text x="934.30" y="1273.80">125</text>
<text x="1019.30" y="1273.80">130</text>
<text x="1104.30" y="1273.80">135</text>
<text x="1189.30" y="1273.80">140</text>
<text x="1275.30" y="1273.80">145</text>
<text x="1360.30" y="1273.80">150</text>
<text x="1445.30" y="1273.80">155</text>
<text x="1530.30" y="1273.80">160</text>
<text x="1616.30" y="1273.80">165</text>
<text x="1701.30" y="1273.80">170</text>
</g>
<g font-size="27.6" text-anchor="end">
<text x="146.60" y="1242.40">38</text>
<text x="146.60" y="1157.40">43</text>
<text x="146.60" y="1072.40">48</text>
<text x="146.60" y="987.40">53</text>
<text x="146.60" y="901.40">58</text>
<text x="146.60" y="816.40">63</text>
<text x="146.60" y="731.40">68</text>
<text x="146.60" y="646.40">73</text>
<text x="146.60" y="560.40">78</text>
<text x="146.60" y="475.40">83</text>
<text x="146.60" y="390.40">88</text>
<text x="146.60" y="305.40">93</text>
<text x="146.60" y="219.40">98</text>
</g>
<text x="934.1" y="1312" font-size="31.5" text-anchor="middle">D2</text>
<text transform="translate(98,724) rotate(-90)" font-size="31.5" text-anchor="middle">D1a</text>
<text x="935.6" y="151" font-size="30.1" text-anchor="middle">V2 Rate Ch 5; Steps 1.02.03.04.05.06.07.0; 14056pts;</text>
<text x="935" y="184" font-size="30.08" text-anchor="middle">020 - 1990-06-05, 2020-01-25</text>
</svg></body></html>
